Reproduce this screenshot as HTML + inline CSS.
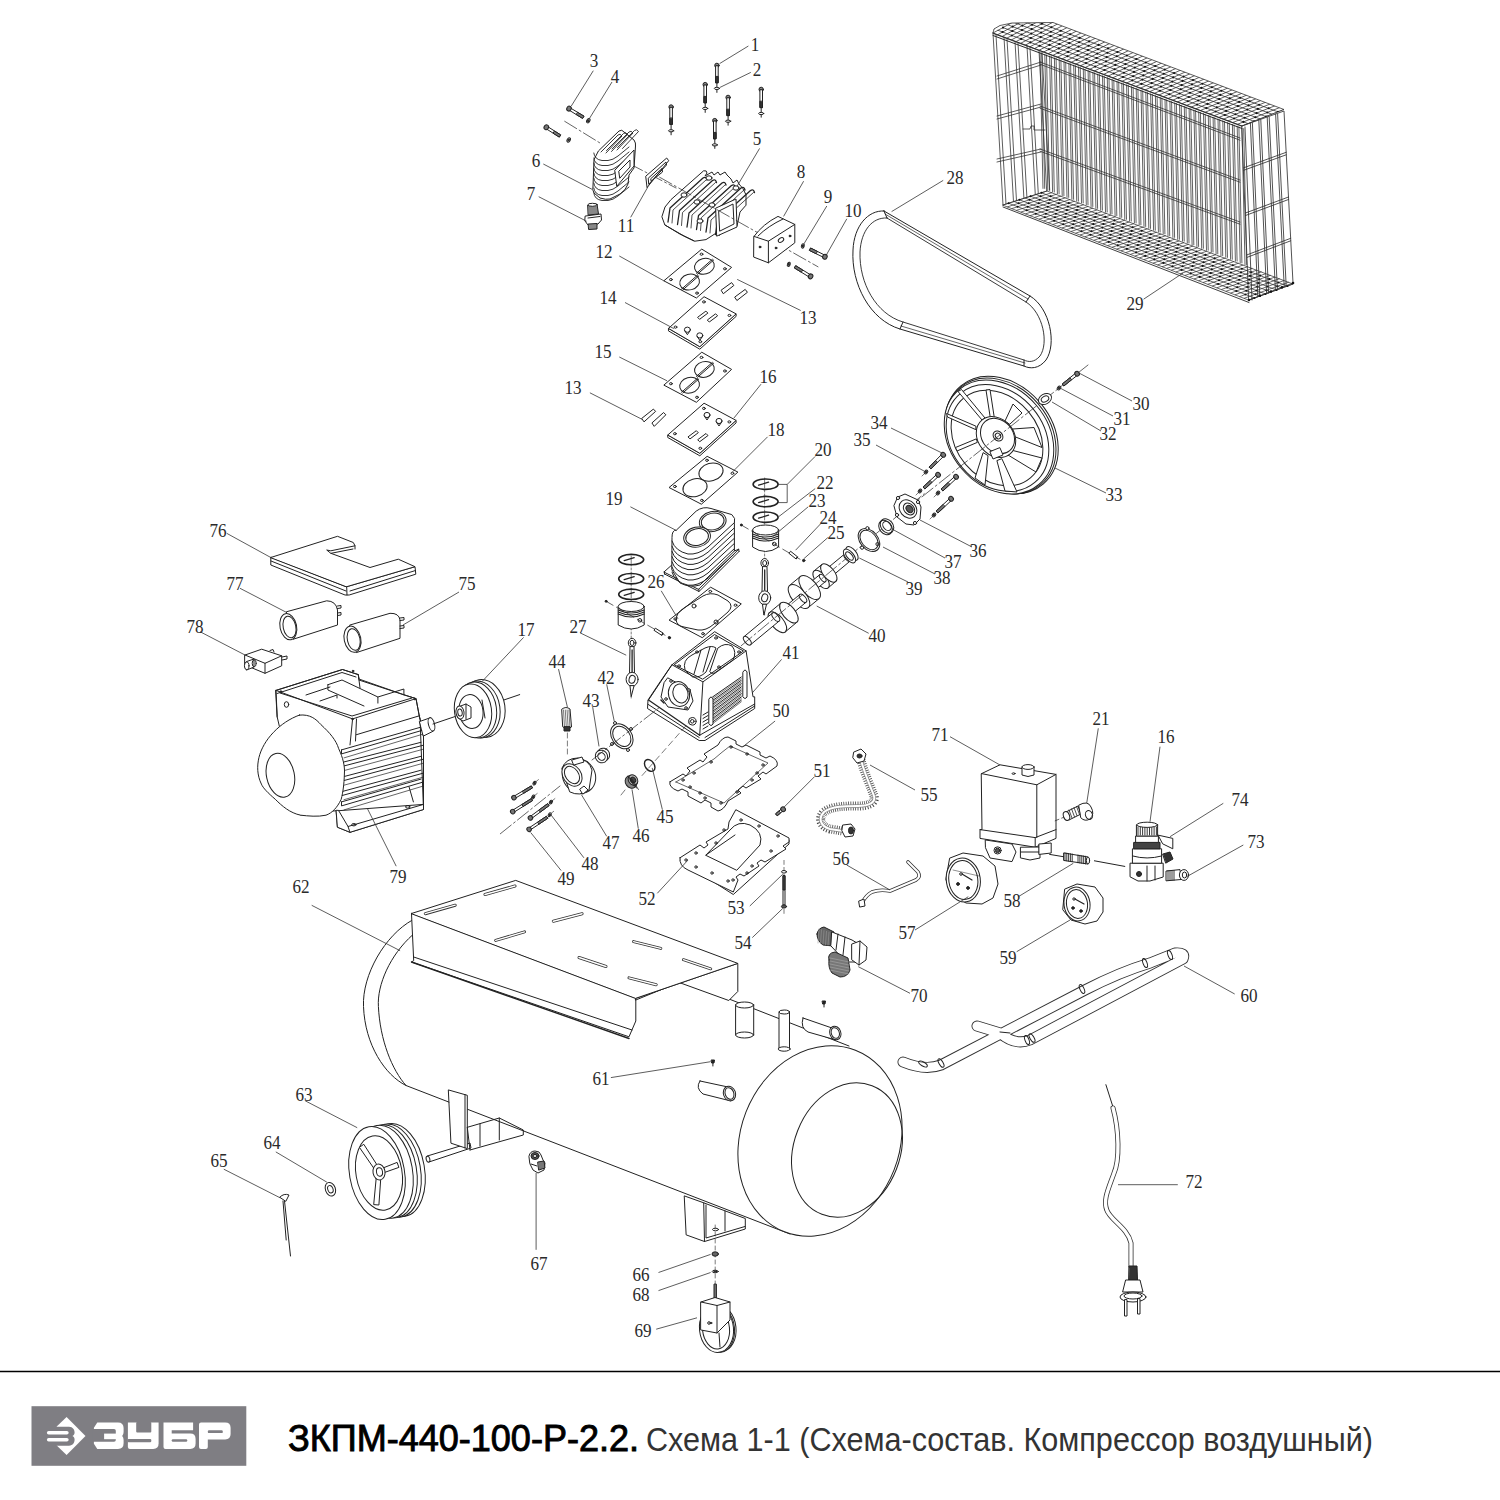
<!DOCTYPE html>
<html><head><meta charset="utf-8">
<style>
html,body{margin:0;padding:0;background:#fff;width:1500px;height:1500px;overflow:hidden}
svg{position:absolute;left:0;top:0}
.lb text{font-family:"Liberation Serif",serif;font-size:19px;fill:#2a2a2a;text-anchor:middle}
.title{position:absolute;left:288px;top:1414px;font-family:"Liberation Sans",sans-serif;font-size:36px;color:#000;white-space:nowrap;letter-spacing:-0.5px}
.title b{font-weight:bold}
.title span{color:#111}
</style></head><body>
<svg width="1500" height="1500" viewBox="0 0 1500 1500">
<g fill="none" stroke="#222" stroke-width="1" stroke-linejoin="round" stroke-linecap="round">
<g stroke="#3a3a3a" stroke-width="0.8">
<line x1="1040.0" y1="52.6" x2="1043.0" y2="188.4"/>
<line x1="1041.7" y1="53.2" x2="1044.7" y2="188.4"/>
<line x1="1044.8" y1="54.4" x2="1047.8" y2="190.2"/>
<line x1="1046.5" y1="55.0" x2="1049.5" y2="190.2"/>
<line x1="1049.6" y1="56.1" x2="1052.6" y2="192.0"/>
<line x1="1051.3" y1="56.7" x2="1054.3" y2="192.0"/>
<line x1="1054.4" y1="57.9" x2="1057.4" y2="193.8"/>
<line x1="1056.1" y1="58.5" x2="1059.1" y2="193.8"/>
<line x1="1059.2" y1="59.7" x2="1062.2" y2="195.6"/>
<line x1="1060.9" y1="60.3" x2="1063.9" y2="195.6"/>
<line x1="1064.0" y1="61.5" x2="1067.0" y2="197.4"/>
<line x1="1065.7" y1="62.1" x2="1068.7" y2="197.4"/>
<line x1="1068.9" y1="63.3" x2="1071.9" y2="199.3"/>
<line x1="1070.6" y1="63.9" x2="1073.6" y2="199.3"/>
<line x1="1073.7" y1="65.1" x2="1076.7" y2="201.1"/>
<line x1="1075.4" y1="65.7" x2="1078.4" y2="201.1"/>
<line x1="1078.5" y1="66.9" x2="1081.5" y2="202.9"/>
<line x1="1080.2" y1="67.5" x2="1083.2" y2="202.9"/>
<line x1="1083.3" y1="68.7" x2="1086.3" y2="204.7"/>
<line x1="1085.0" y1="69.3" x2="1088.0" y2="204.7"/>
<line x1="1088.1" y1="70.5" x2="1091.1" y2="206.5"/>
<line x1="1089.8" y1="71.1" x2="1092.8" y2="206.5"/>
<line x1="1092.9" y1="72.3" x2="1095.9" y2="208.4"/>
<line x1="1094.6" y1="72.9" x2="1097.6" y2="208.4"/>
<line x1="1097.7" y1="74.1" x2="1100.7" y2="210.2"/>
<line x1="1099.4" y1="74.7" x2="1102.4" y2="210.2"/>
<line x1="1102.5" y1="75.9" x2="1105.5" y2="212.0"/>
<line x1="1104.2" y1="76.5" x2="1107.2" y2="212.0"/>
<line x1="1107.3" y1="77.7" x2="1110.3" y2="213.8"/>
<line x1="1109.0" y1="78.3" x2="1112.0" y2="213.8"/>
<line x1="1112.1" y1="79.5" x2="1115.1" y2="215.6"/>
<line x1="1113.8" y1="80.1" x2="1116.8" y2="215.6"/>
<line x1="1117.0" y1="81.3" x2="1120.0" y2="217.4"/>
<line x1="1118.7" y1="81.9" x2="1121.7" y2="217.4"/>
<line x1="1121.8" y1="83.1" x2="1124.8" y2="219.3"/>
<line x1="1123.5" y1="83.7" x2="1126.5" y2="219.3"/>
<line x1="1126.6" y1="84.9" x2="1129.6" y2="221.1"/>
<line x1="1128.3" y1="85.5" x2="1131.3" y2="221.1"/>
<line x1="1131.4" y1="86.7" x2="1134.4" y2="222.9"/>
<line x1="1133.1" y1="87.3" x2="1136.1" y2="222.9"/>
<line x1="1136.2" y1="88.5" x2="1139.2" y2="224.7"/>
<line x1="1137.9" y1="89.1" x2="1140.9" y2="224.7"/>
<line x1="1141.0" y1="90.3" x2="1144.0" y2="226.5"/>
<line x1="1142.7" y1="90.9" x2="1145.7" y2="226.5"/>
<line x1="1145.8" y1="92.1" x2="1148.8" y2="228.4"/>
<line x1="1147.5" y1="92.7" x2="1150.5" y2="228.4"/>
<line x1="1150.6" y1="93.9" x2="1153.6" y2="230.2"/>
<line x1="1152.3" y1="94.5" x2="1155.3" y2="230.2"/>
<line x1="1155.4" y1="95.7" x2="1158.4" y2="232.0"/>
<line x1="1157.1" y1="96.3" x2="1160.1" y2="232.0"/>
<line x1="1160.2" y1="97.5" x2="1163.2" y2="233.8"/>
<line x1="1161.9" y1="98.1" x2="1164.9" y2="233.8"/>
<line x1="1165.0" y1="99.3" x2="1168.0" y2="235.6"/>
<line x1="1166.7" y1="99.9" x2="1169.7" y2="235.6"/>
<line x1="1169.9" y1="101.1" x2="1172.9" y2="237.4"/>
<line x1="1171.6" y1="101.7" x2="1174.6" y2="237.4"/>
<line x1="1174.7" y1="102.9" x2="1177.7" y2="239.3"/>
<line x1="1176.4" y1="103.5" x2="1179.4" y2="239.3"/>
<line x1="1179.5" y1="104.6" x2="1182.5" y2="241.1"/>
<line x1="1181.2" y1="105.2" x2="1184.2" y2="241.1"/>
<line x1="1184.3" y1="106.4" x2="1187.3" y2="242.9"/>
<line x1="1186.0" y1="107.0" x2="1189.0" y2="242.9"/>
<line x1="1189.1" y1="108.2" x2="1192.1" y2="244.7"/>
<line x1="1190.8" y1="108.8" x2="1193.8" y2="244.7"/>
<line x1="1193.9" y1="110.0" x2="1196.9" y2="246.5"/>
<line x1="1195.6" y1="110.6" x2="1198.6" y2="246.5"/>
<line x1="1198.7" y1="111.8" x2="1201.7" y2="248.3"/>
<line x1="1200.4" y1="112.4" x2="1203.4" y2="248.3"/>
<line x1="1203.5" y1="113.6" x2="1206.5" y2="250.2"/>
<line x1="1205.2" y1="114.2" x2="1208.2" y2="250.2"/>
<line x1="1208.3" y1="115.4" x2="1211.3" y2="252.0"/>
<line x1="1210.0" y1="116.0" x2="1213.0" y2="252.0"/>
<line x1="1213.1" y1="117.2" x2="1216.1" y2="253.8"/>
<line x1="1214.8" y1="117.8" x2="1217.8" y2="253.8"/>
<line x1="1218.0" y1="119.0" x2="1221.0" y2="255.6"/>
<line x1="1219.7" y1="119.6" x2="1222.7" y2="255.6"/>
<line x1="1222.8" y1="120.8" x2="1225.8" y2="257.4"/>
<line x1="1224.5" y1="121.4" x2="1227.5" y2="257.4"/>
<line x1="1227.6" y1="122.6" x2="1230.6" y2="259.3"/>
<line x1="1229.3" y1="123.2" x2="1232.3" y2="259.3"/>
<line x1="1232.4" y1="124.4" x2="1235.4" y2="261.1"/>
<line x1="1234.1" y1="125.0" x2="1237.1" y2="261.1"/>
<line x1="1237.2" y1="126.2" x2="1240.2" y2="262.9"/>
<line x1="1238.9" y1="126.8" x2="1241.9" y2="262.9"/>
<line x1="1242.0" y1="128.0" x2="1245.0" y2="264.7"/>
<line x1="1243.7" y1="128.6" x2="1246.7" y2="264.7"/>
</g>
<g stroke="#333" stroke-width="0.8">
<line x1="1040.0" y1="62.0" x2="1240.0" y2="138.0"/>
<line x1="1040.0" y1="64.2" x2="1240.0" y2="140.2"/>
<line x1="1040.0" y1="106.0" x2="1240.0" y2="180.0"/>
<line x1="1040.0" y1="108.2" x2="1240.0" y2="182.2"/>
<line x1="1040.0" y1="149.0" x2="1240.0" y2="222.0"/>
<line x1="1040.0" y1="151.2" x2="1240.0" y2="224.2"/>
</g>
<g stroke="#2a2a2a" stroke-width="0.75">
<clipPath id="ctop"><path d="M993.0,33.0 L994.0,29.0 L1000.0,25.5 L1012.0,23.0 L1053.0,22.5 L1284.0,109.5 L1242.0,126.0 Z"/></clipPath>
<path d="M993.0,33.0 L994.0,29.0 L1000.0,25.5 L1012.0,23.0 L1053.0,22.5 L1284.0,109.5 L1242.0,126.0 Z" fill="#fff"/>
<g clip-path="url(#ctop)">
<line x1="998.0" y1="30.3" x2="1248.0" y2="123.6"/>
<line x1="1003.0" y1="27.6" x2="1254.0" y2="121.3"/>
<line x1="1008.0" y1="24.9" x2="1260.0" y2="118.9"/>
<line x1="1013.0" y1="22.1" x2="1266.0" y2="116.6"/>
<line x1="1018.0" y1="19.4" x2="1272.0" y2="114.2"/>
<line x1="1023.0" y1="16.7" x2="1278.0" y2="111.9"/>
<line x1="978.6" y1="32.4" x2="1022.0" y2="8.6" stroke-width="0.75"/>
<circle cx="993.7" cy="24.1" r="1.05" fill="#111" stroke="none"/>
<circle cx="1003.6" cy="18.6" r="1.05" fill="#111" stroke="none"/>
<circle cx="1013.6" cy="13.2" r="1.05" fill="#111" stroke="none"/>
<line x1="983.2" y1="34.1" x2="1026.7" y2="10.3" stroke-width="0.75"/>
<circle cx="993.4" cy="28.6" r="1.05" fill="#111" stroke="none"/>
<circle cx="1003.3" cy="23.1" r="1.05" fill="#111" stroke="none"/>
<circle cx="1013.3" cy="17.7" r="1.05" fill="#111" stroke="none"/>
<line x1="987.8" y1="35.8" x2="1031.5" y2="12.1" stroke-width="0.75"/>
<circle cx="1003.0" cy="27.6" r="1.05" fill="#111" stroke="none"/>
<circle cx="1013.0" cy="22.1" r="1.05" fill="#111" stroke="none"/>
<circle cx="1023.0" cy="16.7" r="1.05" fill="#111" stroke="none"/>
<line x1="992.3" y1="37.6" x2="1036.3" y2="13.9" stroke-width="0.75"/>
<circle cx="1002.6" cy="32.0" r="1.05" fill="#111" stroke="none"/>
<circle cx="1012.7" cy="26.6" r="1.05" fill="#111" stroke="none"/>
<circle cx="1022.7" cy="21.2" r="1.05" fill="#111" stroke="none"/>
<line x1="996.9" y1="39.3" x2="1041.0" y2="15.6" stroke-width="0.75"/>
<circle cx="1012.3" cy="31.0" r="1.05" fill="#111" stroke="none"/>
<circle cx="1022.4" cy="25.6" r="1.05" fill="#111" stroke="none"/>
<circle cx="1032.4" cy="20.2" r="1.05" fill="#111" stroke="none"/>
<line x1="1001.5" y1="41.0" x2="1045.8" y2="17.4" stroke-width="0.75"/>
<circle cx="1011.9" cy="35.5" r="1.05" fill="#111" stroke="none"/>
<circle cx="1022.0" cy="30.1" r="1.05" fill="#111" stroke="none"/>
<circle cx="1032.1" cy="24.7" r="1.05" fill="#111" stroke="none"/>
<line x1="1006.1" y1="42.7" x2="1050.5" y2="19.2" stroke-width="0.75"/>
<circle cx="1021.6" cy="34.5" r="1.05" fill="#111" stroke="none"/>
<circle cx="1031.7" cy="29.1" r="1.05" fill="#111" stroke="none"/>
<circle cx="1041.9" cy="23.8" r="1.05" fill="#111" stroke="none"/>
<line x1="1010.7" y1="44.4" x2="1055.3" y2="21.0" stroke-width="0.75"/>
<circle cx="1021.1" cy="38.9" r="1.05" fill="#111" stroke="none"/>
<circle cx="1031.3" cy="33.6" r="1.05" fill="#111" stroke="none"/>
<circle cx="1041.5" cy="28.2" r="1.05" fill="#111" stroke="none"/>
<line x1="1015.3" y1="46.1" x2="1060.0" y2="22.7" stroke-width="0.75"/>
<circle cx="1030.9" cy="38.0" r="1.05" fill="#111" stroke="none"/>
<circle cx="1041.1" cy="32.6" r="1.05" fill="#111" stroke="none"/>
<circle cx="1051.3" cy="27.3" r="1.05" fill="#111" stroke="none"/>
<line x1="1019.9" y1="47.9" x2="1064.8" y2="24.5" stroke-width="0.75"/>
<circle cx="1030.4" cy="42.4" r="1.05" fill="#111" stroke="none"/>
<circle cx="1040.7" cy="37.1" r="1.05" fill="#111" stroke="none"/>
<circle cx="1050.9" cy="31.7" r="1.05" fill="#111" stroke="none"/>
<line x1="1024.5" y1="49.6" x2="1069.5" y2="26.3" stroke-width="0.75"/>
<circle cx="1040.2" cy="41.5" r="1.05" fill="#111" stroke="none"/>
<circle cx="1050.5" cy="36.1" r="1.05" fill="#111" stroke="none"/>
<circle cx="1060.8" cy="30.8" r="1.05" fill="#111" stroke="none"/>
<line x1="1029.1" y1="51.3" x2="1074.3" y2="28.1" stroke-width="0.75"/>
<circle cx="1039.7" cy="45.8" r="1.05" fill="#111" stroke="none"/>
<circle cx="1050.0" cy="40.5" r="1.05" fill="#111" stroke="none"/>
<circle cx="1060.3" cy="35.2" r="1.05" fill="#111" stroke="none"/>
<line x1="1033.7" y1="53.0" x2="1079.0" y2="29.8" stroke-width="0.75"/>
<circle cx="1049.5" cy="44.9" r="1.05" fill="#111" stroke="none"/>
<circle cx="1059.9" cy="39.6" r="1.05" fill="#111" stroke="none"/>
<circle cx="1070.2" cy="34.3" r="1.05" fill="#111" stroke="none"/>
<line x1="1038.3" y1="54.7" x2="1083.8" y2="31.6" stroke-width="0.75"/>
<circle cx="1048.9" cy="49.3" r="1.05" fill="#111" stroke="none"/>
<circle cx="1059.3" cy="44.0" r="1.05" fill="#111" stroke="none"/>
<circle cx="1069.7" cy="38.7" r="1.05" fill="#111" stroke="none"/>
<line x1="1042.8" y1="56.4" x2="1088.5" y2="33.4" stroke-width="0.75"/>
<circle cx="1058.8" cy="48.4" r="1.05" fill="#111" stroke="none"/>
<circle cx="1069.2" cy="43.1" r="1.05" fill="#111" stroke="none"/>
<circle cx="1079.7" cy="37.9" r="1.05" fill="#111" stroke="none"/>
<line x1="1047.4" y1="58.1" x2="1093.3" y2="35.2" stroke-width="0.75"/>
<circle cx="1058.2" cy="52.8" r="1.05" fill="#111" stroke="none"/>
<circle cx="1068.7" cy="47.5" r="1.05" fill="#111" stroke="none"/>
<circle cx="1079.1" cy="42.2" r="1.05" fill="#111" stroke="none"/>
<line x1="1052.0" y1="59.9" x2="1098.1" y2="36.9" stroke-width="0.75"/>
<circle cx="1068.1" cy="51.9" r="1.05" fill="#111" stroke="none"/>
<circle cx="1078.6" cy="46.6" r="1.05" fill="#111" stroke="none"/>
<circle cx="1089.1" cy="41.4" r="1.05" fill="#111" stroke="none"/>
<line x1="1056.6" y1="61.6" x2="1102.8" y2="38.7" stroke-width="0.75"/>
<circle cx="1067.4" cy="56.2" r="1.05" fill="#111" stroke="none"/>
<circle cx="1078.0" cy="51.0" r="1.05" fill="#111" stroke="none"/>
<circle cx="1088.6" cy="45.8" r="1.05" fill="#111" stroke="none"/>
<line x1="1061.2" y1="63.3" x2="1107.6" y2="40.5" stroke-width="0.75"/>
<circle cx="1077.4" cy="55.3" r="1.05" fill="#111" stroke="none"/>
<circle cx="1088.0" cy="50.1" r="1.05" fill="#111" stroke="none"/>
<circle cx="1098.6" cy="44.9" r="1.05" fill="#111" stroke="none"/>
<line x1="1065.8" y1="65.0" x2="1112.3" y2="42.2" stroke-width="0.75"/>
<circle cx="1076.7" cy="59.7" r="1.05" fill="#111" stroke="none"/>
<circle cx="1087.3" cy="54.5" r="1.05" fill="#111" stroke="none"/>
<circle cx="1098.0" cy="49.3" r="1.05" fill="#111" stroke="none"/>
<line x1="1070.4" y1="66.7" x2="1117.1" y2="44.0" stroke-width="0.75"/>
<circle cx="1086.7" cy="58.8" r="1.05" fill="#111" stroke="none"/>
<circle cx="1097.3" cy="53.6" r="1.05" fill="#111" stroke="none"/>
<circle cx="1108.0" cy="48.4" r="1.05" fill="#111" stroke="none"/>
<line x1="1075.0" y1="68.4" x2="1121.8" y2="45.8" stroke-width="0.75"/>
<circle cx="1086.0" cy="63.1" r="1.05" fill="#111" stroke="none"/>
<circle cx="1096.7" cy="58.0" r="1.05" fill="#111" stroke="none"/>
<circle cx="1107.4" cy="52.8" r="1.05" fill="#111" stroke="none"/>
<line x1="1079.6" y1="70.2" x2="1126.6" y2="47.6" stroke-width="0.75"/>
<circle cx="1096.0" cy="62.3" r="1.05" fill="#111" stroke="none"/>
<circle cx="1106.7" cy="57.1" r="1.05" fill="#111" stroke="none"/>
<circle cx="1117.4" cy="52.0" r="1.05" fill="#111" stroke="none"/>
<line x1="1084.2" y1="71.9" x2="1131.3" y2="49.3" stroke-width="0.75"/>
<circle cx="1095.2" cy="66.6" r="1.05" fill="#111" stroke="none"/>
<circle cx="1106.0" cy="61.4" r="1.05" fill="#111" stroke="none"/>
<circle cx="1116.8" cy="56.3" r="1.05" fill="#111" stroke="none"/>
<line x1="1088.8" y1="73.6" x2="1136.1" y2="51.1" stroke-width="0.75"/>
<circle cx="1105.3" cy="65.8" r="1.05" fill="#111" stroke="none"/>
<circle cx="1116.1" cy="60.6" r="1.05" fill="#111" stroke="none"/>
<circle cx="1126.9" cy="55.5" r="1.05" fill="#111" stroke="none"/>
<line x1="1093.4" y1="75.3" x2="1140.8" y2="52.9" stroke-width="0.75"/>
<circle cx="1104.5" cy="70.0" r="1.05" fill="#111" stroke="none"/>
<circle cx="1115.3" cy="64.9" r="1.05" fill="#111" stroke="none"/>
<circle cx="1126.2" cy="59.8" r="1.05" fill="#111" stroke="none"/>
<line x1="1098.0" y1="77.0" x2="1145.6" y2="54.7" stroke-width="0.75"/>
<circle cx="1114.6" cy="69.2" r="1.05" fill="#111" stroke="none"/>
<circle cx="1125.4" cy="64.1" r="1.05" fill="#111" stroke="none"/>
<circle cx="1136.3" cy="59.0" r="1.05" fill="#111" stroke="none"/>
<line x1="1102.5" y1="78.7" x2="1150.3" y2="56.4" stroke-width="0.75"/>
<circle cx="1113.7" cy="73.5" r="1.05" fill="#111" stroke="none"/>
<circle cx="1124.7" cy="68.4" r="1.05" fill="#111" stroke="none"/>
<circle cx="1135.6" cy="63.3" r="1.05" fill="#111" stroke="none"/>
<line x1="1107.1" y1="80.4" x2="1155.1" y2="58.2" stroke-width="0.75"/>
<circle cx="1123.9" cy="72.7" r="1.05" fill="#111" stroke="none"/>
<circle cx="1134.8" cy="67.6" r="1.05" fill="#111" stroke="none"/>
<circle cx="1145.8" cy="62.5" r="1.05" fill="#111" stroke="none"/>
<line x1="1111.7" y1="82.2" x2="1159.8" y2="60.0" stroke-width="0.75"/>
<circle cx="1123.0" cy="77.0" r="1.05" fill="#111" stroke="none"/>
<circle cx="1134.0" cy="71.9" r="1.05" fill="#111" stroke="none"/>
<circle cx="1145.0" cy="66.8" r="1.05" fill="#111" stroke="none"/>
<line x1="1116.3" y1="83.9" x2="1164.6" y2="61.7" stroke-width="0.75"/>
<circle cx="1133.1" cy="76.2" r="1.05" fill="#111" stroke="none"/>
<circle cx="1144.2" cy="71.1" r="1.05" fill="#111" stroke="none"/>
<circle cx="1155.2" cy="66.0" r="1.05" fill="#111" stroke="none"/>
<line x1="1120.9" y1="85.6" x2="1169.4" y2="63.5" stroke-width="0.75"/>
<circle cx="1132.3" cy="80.4" r="1.05" fill="#111" stroke="none"/>
<circle cx="1143.3" cy="75.4" r="1.05" fill="#111" stroke="none"/>
<circle cx="1154.4" cy="70.3" r="1.05" fill="#111" stroke="none"/>
<line x1="1125.5" y1="87.3" x2="1174.1" y2="65.3" stroke-width="0.75"/>
<circle cx="1142.4" cy="79.6" r="1.05" fill="#111" stroke="none"/>
<circle cx="1153.6" cy="74.6" r="1.05" fill="#111" stroke="none"/>
<circle cx="1164.7" cy="69.6" r="1.05" fill="#111" stroke="none"/>
<line x1="1130.1" y1="89.0" x2="1178.9" y2="67.1" stroke-width="0.75"/>
<circle cx="1141.5" cy="83.9" r="1.05" fill="#111" stroke="none"/>
<circle cx="1152.7" cy="78.9" r="1.05" fill="#111" stroke="none"/>
<circle cx="1163.8" cy="73.8" r="1.05" fill="#111" stroke="none"/>
<line x1="1134.7" y1="90.7" x2="1183.6" y2="68.8" stroke-width="0.75"/>
<circle cx="1151.7" cy="83.1" r="1.05" fill="#111" stroke="none"/>
<circle cx="1162.9" cy="78.1" r="1.05" fill="#111" stroke="none"/>
<circle cx="1174.1" cy="73.1" r="1.05" fill="#111" stroke="none"/>
<line x1="1139.3" y1="92.5" x2="1188.4" y2="70.6" stroke-width="0.75"/>
<circle cx="1150.8" cy="87.3" r="1.05" fill="#111" stroke="none"/>
<circle cx="1162.0" cy="82.3" r="1.05" fill="#111" stroke="none"/>
<circle cx="1173.2" cy="77.4" r="1.05" fill="#111" stroke="none"/>
<line x1="1143.9" y1="94.2" x2="1193.1" y2="72.4" stroke-width="0.75"/>
<circle cx="1161.0" cy="86.6" r="1.05" fill="#111" stroke="none"/>
<circle cx="1172.3" cy="81.6" r="1.05" fill="#111" stroke="none"/>
<circle cx="1183.6" cy="76.6" r="1.05" fill="#111" stroke="none"/>
<line x1="1148.5" y1="95.9" x2="1197.9" y2="74.2" stroke-width="0.75"/>
<circle cx="1160.0" cy="90.8" r="1.05" fill="#111" stroke="none"/>
<circle cx="1171.3" cy="85.8" r="1.05" fill="#111" stroke="none"/>
<circle cx="1182.6" cy="80.9" r="1.05" fill="#111" stroke="none"/>
<line x1="1153.0" y1="97.6" x2="1202.6" y2="75.9" stroke-width="0.75"/>
<circle cx="1170.3" cy="90.0" r="1.05" fill="#111" stroke="none"/>
<circle cx="1181.7" cy="85.1" r="1.05" fill="#111" stroke="none"/>
<circle cx="1193.0" cy="80.1" r="1.05" fill="#111" stroke="none"/>
<line x1="1157.6" y1="99.3" x2="1207.4" y2="77.7" stroke-width="0.75"/>
<circle cx="1169.3" cy="94.3" r="1.05" fill="#111" stroke="none"/>
<circle cx="1180.7" cy="89.3" r="1.05" fill="#111" stroke="none"/>
<circle cx="1192.0" cy="84.4" r="1.05" fill="#111" stroke="none"/>
<line x1="1162.2" y1="101.0" x2="1212.1" y2="79.5" stroke-width="0.75"/>
<circle cx="1179.6" cy="93.5" r="1.05" fill="#111" stroke="none"/>
<circle cx="1191.0" cy="88.6" r="1.05" fill="#111" stroke="none"/>
<circle cx="1202.4" cy="83.7" r="1.05" fill="#111" stroke="none"/>
<line x1="1166.8" y1="102.7" x2="1216.9" y2="81.3" stroke-width="0.75"/>
<circle cx="1178.6" cy="97.7" r="1.05" fill="#111" stroke="none"/>
<circle cx="1190.0" cy="92.8" r="1.05" fill="#111" stroke="none"/>
<circle cx="1201.4" cy="87.9" r="1.05" fill="#111" stroke="none"/>
<line x1="1171.4" y1="104.5" x2="1221.6" y2="83.0" stroke-width="0.75"/>
<circle cx="1188.9" cy="97.0" r="1.05" fill="#111" stroke="none"/>
<circle cx="1200.4" cy="92.1" r="1.05" fill="#111" stroke="none"/>
<circle cx="1211.9" cy="87.2" r="1.05" fill="#111" stroke="none"/>
<line x1="1176.0" y1="106.2" x2="1226.4" y2="84.8" stroke-width="0.75"/>
<circle cx="1187.8" cy="101.2" r="1.05" fill="#111" stroke="none"/>
<circle cx="1199.3" cy="96.3" r="1.05" fill="#111" stroke="none"/>
<circle cx="1210.9" cy="91.4" r="1.05" fill="#111" stroke="none"/>
<line x1="1180.6" y1="107.9" x2="1231.2" y2="86.6" stroke-width="0.75"/>
<circle cx="1198.2" cy="100.5" r="1.05" fill="#111" stroke="none"/>
<circle cx="1209.8" cy="95.6" r="1.05" fill="#111" stroke="none"/>
<circle cx="1221.3" cy="90.7" r="1.05" fill="#111" stroke="none"/>
<line x1="1185.2" y1="109.6" x2="1235.9" y2="88.3" stroke-width="0.75"/>
<circle cx="1197.1" cy="104.6" r="1.05" fill="#111" stroke="none"/>
<circle cx="1208.7" cy="99.8" r="1.05" fill="#111" stroke="none"/>
<circle cx="1220.3" cy="94.9" r="1.05" fill="#111" stroke="none"/>
<line x1="1189.8" y1="111.3" x2="1240.7" y2="90.1" stroke-width="0.75"/>
<circle cx="1207.5" cy="103.9" r="1.05" fill="#111" stroke="none"/>
<circle cx="1219.1" cy="99.1" r="1.05" fill="#111" stroke="none"/>
<circle cx="1230.8" cy="94.2" r="1.05" fill="#111" stroke="none"/>
<line x1="1194.4" y1="113.0" x2="1245.4" y2="91.9" stroke-width="0.75"/>
<circle cx="1206.3" cy="108.1" r="1.05" fill="#111" stroke="none"/>
<circle cx="1218.0" cy="103.2" r="1.05" fill="#111" stroke="none"/>
<circle cx="1229.7" cy="98.4" r="1.05" fill="#111" stroke="none"/>
<line x1="1199.0" y1="114.8" x2="1250.2" y2="93.7" stroke-width="0.75"/>
<circle cx="1216.8" cy="107.4" r="1.05" fill="#111" stroke="none"/>
<circle cx="1228.5" cy="102.6" r="1.05" fill="#111" stroke="none"/>
<circle cx="1240.2" cy="97.8" r="1.05" fill="#111" stroke="none"/>
<line x1="1203.6" y1="116.5" x2="1254.9" y2="95.4" stroke-width="0.75"/>
<circle cx="1215.6" cy="111.5" r="1.05" fill="#111" stroke="none"/>
<circle cx="1227.3" cy="106.7" r="1.05" fill="#111" stroke="none"/>
<circle cx="1239.1" cy="101.9" r="1.05" fill="#111" stroke="none"/>
<line x1="1208.1" y1="118.2" x2="1259.7" y2="97.2" stroke-width="0.75"/>
<circle cx="1226.1" cy="110.9" r="1.05" fill="#111" stroke="none"/>
<circle cx="1237.9" cy="106.1" r="1.05" fill="#111" stroke="none"/>
<circle cx="1249.7" cy="101.3" r="1.05" fill="#111" stroke="none"/>
<line x1="1212.7" y1="119.9" x2="1264.4" y2="99.0" stroke-width="0.75"/>
<circle cx="1224.9" cy="115.0" r="1.05" fill="#111" stroke="none"/>
<circle cx="1236.7" cy="110.2" r="1.05" fill="#111" stroke="none"/>
<circle cx="1248.5" cy="105.4" r="1.05" fill="#111" stroke="none"/>
<line x1="1217.3" y1="121.6" x2="1269.2" y2="100.8" stroke-width="0.75"/>
<circle cx="1235.4" cy="114.3" r="1.05" fill="#111" stroke="none"/>
<circle cx="1247.3" cy="109.6" r="1.05" fill="#111" stroke="none"/>
<circle cx="1259.1" cy="104.8" r="1.05" fill="#111" stroke="none"/>
<line x1="1221.9" y1="123.3" x2="1273.9" y2="102.5" stroke-width="0.75"/>
<circle cx="1234.1" cy="118.5" r="1.05" fill="#111" stroke="none"/>
<circle cx="1246.0" cy="113.7" r="1.05" fill="#111" stroke="none"/>
<circle cx="1257.9" cy="108.9" r="1.05" fill="#111" stroke="none"/>
<line x1="1226.5" y1="125.0" x2="1278.7" y2="104.3" stroke-width="0.75"/>
<circle cx="1244.7" cy="117.8" r="1.05" fill="#111" stroke="none"/>
<circle cx="1256.6" cy="113.1" r="1.05" fill="#111" stroke="none"/>
<circle cx="1268.6" cy="108.3" r="1.05" fill="#111" stroke="none"/>
<line x1="1231.1" y1="126.8" x2="1283.4" y2="106.1" stroke-width="0.75"/>
<circle cx="1243.4" cy="121.9" r="1.05" fill="#111" stroke="none"/>
<circle cx="1255.3" cy="117.2" r="1.05" fill="#111" stroke="none"/>
<circle cx="1267.3" cy="112.5" r="1.05" fill="#111" stroke="none"/>
<line x1="1235.7" y1="128.5" x2="1288.2" y2="107.8" stroke-width="0.75"/>
<circle cx="1254.0" cy="121.3" r="1.05" fill="#111" stroke="none"/>
<circle cx="1266.0" cy="116.6" r="1.05" fill="#111" stroke="none"/>
<circle cx="1278.0" cy="111.9" r="1.05" fill="#111" stroke="none"/>
</g>
<line x1="993.0" y1="35.5" x2="1242.0" y2="128.5" stroke-width="1"/>
<line x1="993.0" y1="33.0" x2="1242.0" y2="126.0" stroke-width="1"/>
</g>
<g stroke="#333" stroke-width="0.8">
<line x1="993.0" y1="33.0" x2="1003.0" y2="205.0"/>
<line x1="996.0" y1="35.1" x2="1006.0" y2="204.0"/>
<line x1="1004.0" y1="37.1" x2="1013.5" y2="201.7"/>
<line x1="1007.0" y1="39.3" x2="1016.5" y2="200.7"/>
<line x1="1015.0" y1="41.3" x2="1023.9" y2="198.4"/>
<line x1="1018.0" y1="43.4" x2="1026.9" y2="197.4"/>
<line x1="1027.0" y1="45.8" x2="1035.3" y2="194.8"/>
<line x1="1030.0" y1="47.9" x2="1038.3" y2="193.8"/>
<line x1="1039.0" y1="50.3" x2="1046.7" y2="191.2"/>
<line x1="1042.0" y1="52.4" x2="1049.7" y2="190.2"/>
<line x1="997.0" y1="76.0" x2="1041.0" y2="62.0"/>
<line x1="997.0" y1="79.0" x2="1041.0" y2="65.0"/>
<line x1="997.0" y1="116.0" x2="1041.0" y2="104.0"/>
<line x1="997.0" y1="119.0" x2="1041.0" y2="107.0"/>
<line x1="997.0" y1="159.0" x2="1041.0" y2="149.0"/>
<line x1="997.0" y1="162.0" x2="1041.0" y2="152.0"/>
</g>
<g stroke="#2a2a2a" stroke-width="0.7">
<path d="M1003.0,205.0 L1047.0,191.0 L1293.0,284.0 L1249.0,300.0 Z" fill="#fff"/>
<line x1="1008.5" y1="203.2" x2="1254.5" y2="298.0"/>
<line x1="1014.0" y1="201.5" x2="1260.0" y2="296.0"/>
<line x1="1019.5" y1="199.8" x2="1265.5" y2="294.0"/>
<line x1="1025.0" y1="198.0" x2="1271.0" y2="292.0"/>
<line x1="1030.5" y1="196.2" x2="1276.5" y2="290.0"/>
<line x1="1036.0" y1="194.5" x2="1282.0" y2="288.0"/>
<line x1="1041.5" y1="192.8" x2="1287.5" y2="286.0"/>
<line x1="1003.0" y1="205.0" x2="1047.0" y2="191.0"/>
<circle cx="1008.5" cy="203.2" r="1.05" fill="#111" stroke="none"/>
<circle cx="1019.5" cy="199.8" r="1.05" fill="#111" stroke="none"/>
<circle cx="1030.5" cy="196.2" r="1.05" fill="#111" stroke="none"/>
<circle cx="1041.5" cy="192.8" r="1.05" fill="#111" stroke="none"/>
<line x1="1007.6" y1="206.8" x2="1051.6" y2="192.7"/>
<circle cx="1018.6" cy="203.2" r="1.05" fill="#111" stroke="none"/>
<circle cx="1029.6" cy="199.7" r="1.05" fill="#111" stroke="none"/>
<circle cx="1040.6" cy="196.2" r="1.05" fill="#111" stroke="none"/>
<line x1="1012.1" y1="208.5" x2="1056.1" y2="194.4"/>
<circle cx="1017.6" cy="206.8" r="1.05" fill="#111" stroke="none"/>
<circle cx="1028.6" cy="203.2" r="1.05" fill="#111" stroke="none"/>
<circle cx="1039.6" cy="199.7" r="1.05" fill="#111" stroke="none"/>
<circle cx="1050.6" cy="196.2" r="1.05" fill="#111" stroke="none"/>
<line x1="1016.7" y1="210.3" x2="1060.7" y2="196.2"/>
<circle cx="1027.7" cy="206.8" r="1.05" fill="#111" stroke="none"/>
<circle cx="1038.7" cy="203.2" r="1.05" fill="#111" stroke="none"/>
<circle cx="1049.7" cy="199.7" r="1.05" fill="#111" stroke="none"/>
<line x1="1021.2" y1="212.0" x2="1065.2" y2="197.9"/>
<circle cx="1026.7" cy="210.3" r="1.05" fill="#111" stroke="none"/>
<circle cx="1037.7" cy="206.7" r="1.05" fill="#111" stroke="none"/>
<circle cx="1048.7" cy="203.2" r="1.05" fill="#111" stroke="none"/>
<circle cx="1059.7" cy="199.7" r="1.05" fill="#111" stroke="none"/>
<line x1="1025.8" y1="213.8" x2="1069.8" y2="199.6"/>
<circle cx="1036.8" cy="210.2" r="1.05" fill="#111" stroke="none"/>
<circle cx="1047.8" cy="206.7" r="1.05" fill="#111" stroke="none"/>
<circle cx="1058.8" cy="203.2" r="1.05" fill="#111" stroke="none"/>
<line x1="1030.3" y1="215.6" x2="1074.3" y2="201.3"/>
<circle cx="1035.8" cy="213.8" r="1.05" fill="#111" stroke="none"/>
<circle cx="1046.8" cy="210.2" r="1.05" fill="#111" stroke="none"/>
<circle cx="1057.8" cy="206.7" r="1.05" fill="#111" stroke="none"/>
<circle cx="1068.8" cy="203.1" r="1.05" fill="#111" stroke="none"/>
<line x1="1034.9" y1="217.3" x2="1078.9" y2="203.1"/>
<circle cx="1045.9" cy="213.8" r="1.05" fill="#111" stroke="none"/>
<circle cx="1056.9" cy="210.2" r="1.05" fill="#111" stroke="none"/>
<circle cx="1067.9" cy="206.6" r="1.05" fill="#111" stroke="none"/>
<line x1="1039.4" y1="219.1" x2="1083.4" y2="204.8"/>
<circle cx="1044.9" cy="217.3" r="1.05" fill="#111" stroke="none"/>
<circle cx="1055.9" cy="213.7" r="1.05" fill="#111" stroke="none"/>
<circle cx="1066.9" cy="210.1" r="1.05" fill="#111" stroke="none"/>
<circle cx="1077.9" cy="206.6" r="1.05" fill="#111" stroke="none"/>
<line x1="1044.0" y1="220.8" x2="1088.0" y2="206.5"/>
<circle cx="1055.0" cy="217.2" r="1.05" fill="#111" stroke="none"/>
<circle cx="1066.0" cy="213.7" r="1.05" fill="#111" stroke="none"/>
<circle cx="1077.0" cy="210.1" r="1.05" fill="#111" stroke="none"/>
<line x1="1048.6" y1="222.6" x2="1092.6" y2="208.2"/>
<circle cx="1054.1" cy="220.8" r="1.05" fill="#111" stroke="none"/>
<circle cx="1065.1" cy="217.2" r="1.05" fill="#111" stroke="none"/>
<circle cx="1076.1" cy="213.6" r="1.05" fill="#111" stroke="none"/>
<circle cx="1087.1" cy="210.0" r="1.05" fill="#111" stroke="none"/>
<line x1="1053.1" y1="224.4" x2="1097.1" y2="209.9"/>
<circle cx="1064.1" cy="220.8" r="1.05" fill="#111" stroke="none"/>
<circle cx="1075.1" cy="217.1" r="1.05" fill="#111" stroke="none"/>
<circle cx="1086.1" cy="213.5" r="1.05" fill="#111" stroke="none"/>
<line x1="1057.7" y1="226.1" x2="1101.7" y2="211.7"/>
<circle cx="1063.2" cy="224.3" r="1.05" fill="#111" stroke="none"/>
<circle cx="1074.2" cy="220.7" r="1.05" fill="#111" stroke="none"/>
<circle cx="1085.2" cy="217.1" r="1.05" fill="#111" stroke="none"/>
<circle cx="1096.2" cy="213.5" r="1.05" fill="#111" stroke="none"/>
<line x1="1062.2" y1="227.9" x2="1106.2" y2="213.4"/>
<circle cx="1073.2" cy="224.2" r="1.05" fill="#111" stroke="none"/>
<circle cx="1084.2" cy="220.6" r="1.05" fill="#111" stroke="none"/>
<circle cx="1095.2" cy="217.0" r="1.05" fill="#111" stroke="none"/>
<line x1="1066.8" y1="229.6" x2="1110.8" y2="215.1"/>
<circle cx="1072.3" cy="227.8" r="1.05" fill="#111" stroke="none"/>
<circle cx="1083.3" cy="224.2" r="1.05" fill="#111" stroke="none"/>
<circle cx="1094.3" cy="220.6" r="1.05" fill="#111" stroke="none"/>
<circle cx="1105.3" cy="216.9" r="1.05" fill="#111" stroke="none"/>
<line x1="1071.3" y1="231.4" x2="1115.3" y2="216.8"/>
<circle cx="1082.3" cy="227.8" r="1.05" fill="#111" stroke="none"/>
<circle cx="1093.3" cy="224.1" r="1.05" fill="#111" stroke="none"/>
<circle cx="1104.3" cy="220.5" r="1.05" fill="#111" stroke="none"/>
<line x1="1075.9" y1="233.1" x2="1119.9" y2="218.6"/>
<circle cx="1081.4" cy="231.3" r="1.05" fill="#111" stroke="none"/>
<circle cx="1092.4" cy="227.7" r="1.05" fill="#111" stroke="none"/>
<circle cx="1103.4" cy="224.0" r="1.05" fill="#111" stroke="none"/>
<circle cx="1114.4" cy="220.4" r="1.05" fill="#111" stroke="none"/>
<line x1="1080.4" y1="234.9" x2="1124.4" y2="220.3"/>
<circle cx="1091.4" cy="231.2" r="1.05" fill="#111" stroke="none"/>
<circle cx="1102.4" cy="227.6" r="1.05" fill="#111" stroke="none"/>
<circle cx="1113.4" cy="223.9" r="1.05" fill="#111" stroke="none"/>
<line x1="1085.0" y1="236.7" x2="1129.0" y2="222.0"/>
<circle cx="1090.5" cy="234.8" r="1.05" fill="#111" stroke="none"/>
<circle cx="1101.5" cy="231.2" r="1.05" fill="#111" stroke="none"/>
<circle cx="1112.5" cy="227.5" r="1.05" fill="#111" stroke="none"/>
<circle cx="1123.5" cy="223.8" r="1.05" fill="#111" stroke="none"/>
<line x1="1089.6" y1="238.4" x2="1133.6" y2="223.7"/>
<circle cx="1100.6" cy="234.8" r="1.05" fill="#111" stroke="none"/>
<circle cx="1111.6" cy="231.1" r="1.05" fill="#111" stroke="none"/>
<circle cx="1122.6" cy="227.4" r="1.05" fill="#111" stroke="none"/>
<line x1="1094.1" y1="240.2" x2="1138.1" y2="225.4"/>
<circle cx="1099.6" cy="238.3" r="1.05" fill="#111" stroke="none"/>
<circle cx="1110.6" cy="234.7" r="1.05" fill="#111" stroke="none"/>
<circle cx="1121.6" cy="231.0" r="1.05" fill="#111" stroke="none"/>
<circle cx="1132.6" cy="227.3" r="1.05" fill="#111" stroke="none"/>
<line x1="1098.7" y1="241.9" x2="1142.7" y2="227.2"/>
<circle cx="1109.7" cy="238.2" r="1.05" fill="#111" stroke="none"/>
<circle cx="1120.7" cy="234.6" r="1.05" fill="#111" stroke="none"/>
<circle cx="1131.7" cy="230.9" r="1.05" fill="#111" stroke="none"/>
<line x1="1103.2" y1="243.7" x2="1147.2" y2="228.9"/>
<circle cx="1108.7" cy="241.9" r="1.05" fill="#111" stroke="none"/>
<circle cx="1119.7" cy="238.1" r="1.05" fill="#111" stroke="none"/>
<circle cx="1130.7" cy="234.4" r="1.05" fill="#111" stroke="none"/>
<circle cx="1141.7" cy="230.7" r="1.05" fill="#111" stroke="none"/>
<line x1="1107.8" y1="245.5" x2="1151.8" y2="230.6"/>
<circle cx="1118.8" cy="241.8" r="1.05" fill="#111" stroke="none"/>
<circle cx="1129.8" cy="238.0" r="1.05" fill="#111" stroke="none"/>
<circle cx="1140.8" cy="234.3" r="1.05" fill="#111" stroke="none"/>
<line x1="1112.3" y1="247.2" x2="1156.3" y2="232.3"/>
<circle cx="1117.8" cy="245.4" r="1.05" fill="#111" stroke="none"/>
<circle cx="1128.8" cy="241.6" r="1.05" fill="#111" stroke="none"/>
<circle cx="1139.8" cy="237.9" r="1.05" fill="#111" stroke="none"/>
<circle cx="1150.8" cy="234.2" r="1.05" fill="#111" stroke="none"/>
<line x1="1116.9" y1="249.0" x2="1160.9" y2="234.1"/>
<circle cx="1127.9" cy="245.2" r="1.05" fill="#111" stroke="none"/>
<circle cx="1138.9" cy="241.5" r="1.05" fill="#111" stroke="none"/>
<circle cx="1149.9" cy="237.8" r="1.05" fill="#111" stroke="none"/>
<line x1="1121.4" y1="250.7" x2="1165.4" y2="235.8"/>
<circle cx="1126.9" cy="248.9" r="1.05" fill="#111" stroke="none"/>
<circle cx="1137.9" cy="245.1" r="1.05" fill="#111" stroke="none"/>
<circle cx="1148.9" cy="241.4" r="1.05" fill="#111" stroke="none"/>
<circle cx="1159.9" cy="237.6" r="1.05" fill="#111" stroke="none"/>
<line x1="1126.0" y1="252.5" x2="1170.0" y2="237.5"/>
<circle cx="1137.0" cy="248.8" r="1.05" fill="#111" stroke="none"/>
<circle cx="1148.0" cy="245.0" r="1.05" fill="#111" stroke="none"/>
<circle cx="1159.0" cy="241.2" r="1.05" fill="#111" stroke="none"/>
<line x1="1130.6" y1="254.3" x2="1174.6" y2="239.2"/>
<circle cx="1136.1" cy="252.4" r="1.05" fill="#111" stroke="none"/>
<circle cx="1147.1" cy="248.6" r="1.05" fill="#111" stroke="none"/>
<circle cx="1158.1" cy="244.9" r="1.05" fill="#111" stroke="none"/>
<circle cx="1169.1" cy="241.1" r="1.05" fill="#111" stroke="none"/>
<line x1="1135.1" y1="256.0" x2="1179.1" y2="240.9"/>
<circle cx="1146.1" cy="252.2" r="1.05" fill="#111" stroke="none"/>
<circle cx="1157.1" cy="248.5" r="1.05" fill="#111" stroke="none"/>
<circle cx="1168.1" cy="244.7" r="1.05" fill="#111" stroke="none"/>
<line x1="1139.7" y1="257.8" x2="1183.7" y2="242.7"/>
<circle cx="1145.2" cy="255.9" r="1.05" fill="#111" stroke="none"/>
<circle cx="1156.2" cy="252.1" r="1.05" fill="#111" stroke="none"/>
<circle cx="1167.2" cy="248.3" r="1.05" fill="#111" stroke="none"/>
<circle cx="1178.2" cy="244.6" r="1.05" fill="#111" stroke="none"/>
<line x1="1144.2" y1="259.5" x2="1188.2" y2="244.4"/>
<circle cx="1155.2" cy="255.8" r="1.05" fill="#111" stroke="none"/>
<circle cx="1166.2" cy="252.0" r="1.05" fill="#111" stroke="none"/>
<circle cx="1177.2" cy="248.2" r="1.05" fill="#111" stroke="none"/>
<line x1="1148.8" y1="261.3" x2="1192.8" y2="246.1"/>
<circle cx="1154.3" cy="259.4" r="1.05" fill="#111" stroke="none"/>
<circle cx="1165.3" cy="255.6" r="1.05" fill="#111" stroke="none"/>
<circle cx="1176.3" cy="251.8" r="1.05" fill="#111" stroke="none"/>
<circle cx="1187.3" cy="248.0" r="1.05" fill="#111" stroke="none"/>
<line x1="1153.3" y1="263.1" x2="1197.3" y2="247.8"/>
<circle cx="1164.3" cy="259.2" r="1.05" fill="#111" stroke="none"/>
<circle cx="1175.3" cy="255.4" r="1.05" fill="#111" stroke="none"/>
<circle cx="1186.3" cy="251.6" r="1.05" fill="#111" stroke="none"/>
<line x1="1157.9" y1="264.8" x2="1201.9" y2="249.6"/>
<circle cx="1163.4" cy="262.9" r="1.05" fill="#111" stroke="none"/>
<circle cx="1174.4" cy="259.1" r="1.05" fill="#111" stroke="none"/>
<circle cx="1185.4" cy="255.3" r="1.05" fill="#111" stroke="none"/>
<circle cx="1196.4" cy="251.5" r="1.05" fill="#111" stroke="none"/>
<line x1="1162.4" y1="266.6" x2="1206.4" y2="251.3"/>
<circle cx="1173.4" cy="262.8" r="1.05" fill="#111" stroke="none"/>
<circle cx="1184.4" cy="258.9" r="1.05" fill="#111" stroke="none"/>
<circle cx="1195.4" cy="255.1" r="1.05" fill="#111" stroke="none"/>
<line x1="1167.0" y1="268.3" x2="1211.0" y2="253.0"/>
<circle cx="1172.5" cy="266.4" r="1.05" fill="#111" stroke="none"/>
<circle cx="1183.5" cy="262.6" r="1.05" fill="#111" stroke="none"/>
<circle cx="1194.5" cy="258.8" r="1.05" fill="#111" stroke="none"/>
<circle cx="1205.5" cy="254.9" r="1.05" fill="#111" stroke="none"/>
<line x1="1171.6" y1="270.1" x2="1215.6" y2="254.7"/>
<circle cx="1182.6" cy="266.2" r="1.05" fill="#111" stroke="none"/>
<circle cx="1193.6" cy="262.4" r="1.05" fill="#111" stroke="none"/>
<circle cx="1204.6" cy="258.6" r="1.05" fill="#111" stroke="none"/>
<line x1="1176.1" y1="271.9" x2="1220.1" y2="256.4"/>
<circle cx="1181.6" cy="269.9" r="1.05" fill="#111" stroke="none"/>
<circle cx="1192.6" cy="266.1" r="1.05" fill="#111" stroke="none"/>
<circle cx="1203.6" cy="262.2" r="1.05" fill="#111" stroke="none"/>
<circle cx="1214.6" cy="258.4" r="1.05" fill="#111" stroke="none"/>
<line x1="1180.7" y1="273.6" x2="1224.7" y2="258.2"/>
<circle cx="1191.7" cy="269.8" r="1.05" fill="#111" stroke="none"/>
<circle cx="1202.7" cy="265.9" r="1.05" fill="#111" stroke="none"/>
<circle cx="1213.7" cy="262.0" r="1.05" fill="#111" stroke="none"/>
<line x1="1185.2" y1="275.4" x2="1229.2" y2="259.9"/>
<circle cx="1190.7" cy="273.4" r="1.05" fill="#111" stroke="none"/>
<circle cx="1201.7" cy="269.6" r="1.05" fill="#111" stroke="none"/>
<circle cx="1212.7" cy="265.7" r="1.05" fill="#111" stroke="none"/>
<circle cx="1223.7" cy="261.8" r="1.05" fill="#111" stroke="none"/>
<line x1="1189.8" y1="277.1" x2="1233.8" y2="261.6"/>
<circle cx="1200.8" cy="273.2" r="1.05" fill="#111" stroke="none"/>
<circle cx="1211.8" cy="269.4" r="1.05" fill="#111" stroke="none"/>
<circle cx="1222.8" cy="265.5" r="1.05" fill="#111" stroke="none"/>
<line x1="1194.3" y1="278.9" x2="1238.3" y2="263.3"/>
<circle cx="1199.8" cy="276.9" r="1.05" fill="#111" stroke="none"/>
<circle cx="1210.8" cy="273.1" r="1.05" fill="#111" stroke="none"/>
<circle cx="1221.8" cy="269.2" r="1.05" fill="#111" stroke="none"/>
<circle cx="1232.8" cy="265.3" r="1.05" fill="#111" stroke="none"/>
<line x1="1198.9" y1="280.6" x2="1242.9" y2="265.1"/>
<circle cx="1209.9" cy="276.8" r="1.05" fill="#111" stroke="none"/>
<circle cx="1220.9" cy="272.9" r="1.05" fill="#111" stroke="none"/>
<circle cx="1231.9" cy="269.0" r="1.05" fill="#111" stroke="none"/>
<line x1="1203.4" y1="282.4" x2="1247.4" y2="266.8"/>
<circle cx="1208.9" cy="280.5" r="1.05" fill="#111" stroke="none"/>
<circle cx="1219.9" cy="276.5" r="1.05" fill="#111" stroke="none"/>
<circle cx="1230.9" cy="272.6" r="1.05" fill="#111" stroke="none"/>
<circle cx="1241.9" cy="268.7" r="1.05" fill="#111" stroke="none"/>
<line x1="1208.0" y1="284.2" x2="1252.0" y2="268.5"/>
<circle cx="1219.0" cy="280.2" r="1.05" fill="#111" stroke="none"/>
<circle cx="1230.0" cy="276.3" r="1.05" fill="#111" stroke="none"/>
<circle cx="1241.0" cy="272.4" r="1.05" fill="#111" stroke="none"/>
<line x1="1212.6" y1="285.9" x2="1256.6" y2="270.2"/>
<circle cx="1218.1" cy="284.0" r="1.05" fill="#111" stroke="none"/>
<circle cx="1229.1" cy="280.0" r="1.05" fill="#111" stroke="none"/>
<circle cx="1240.1" cy="276.1" r="1.05" fill="#111" stroke="none"/>
<circle cx="1251.1" cy="272.2" r="1.05" fill="#111" stroke="none"/>
<line x1="1217.1" y1="287.7" x2="1261.1" y2="271.9"/>
<circle cx="1228.1" cy="283.8" r="1.05" fill="#111" stroke="none"/>
<circle cx="1239.1" cy="279.8" r="1.05" fill="#111" stroke="none"/>
<circle cx="1250.1" cy="275.9" r="1.05" fill="#111" stroke="none"/>
<line x1="1221.7" y1="289.4" x2="1265.7" y2="273.7"/>
<circle cx="1227.2" cy="287.5" r="1.05" fill="#111" stroke="none"/>
<circle cx="1238.2" cy="283.5" r="1.05" fill="#111" stroke="none"/>
<circle cx="1249.2" cy="279.6" r="1.05" fill="#111" stroke="none"/>
<circle cx="1260.2" cy="275.6" r="1.05" fill="#111" stroke="none"/>
<line x1="1226.2" y1="291.2" x2="1270.2" y2="275.4"/>
<circle cx="1237.2" cy="287.2" r="1.05" fill="#111" stroke="none"/>
<circle cx="1248.2" cy="283.3" r="1.05" fill="#111" stroke="none"/>
<circle cx="1259.2" cy="279.3" r="1.05" fill="#111" stroke="none"/>
<line x1="1230.8" y1="293.0" x2="1274.8" y2="277.1"/>
<circle cx="1236.3" cy="291.0" r="1.05" fill="#111" stroke="none"/>
<circle cx="1247.3" cy="287.0" r="1.05" fill="#111" stroke="none"/>
<circle cx="1258.3" cy="283.1" r="1.05" fill="#111" stroke="none"/>
<circle cx="1269.3" cy="279.1" r="1.05" fill="#111" stroke="none"/>
<line x1="1235.3" y1="294.7" x2="1279.3" y2="278.8"/>
<circle cx="1246.3" cy="290.8" r="1.05" fill="#111" stroke="none"/>
<circle cx="1257.3" cy="286.8" r="1.05" fill="#111" stroke="none"/>
<circle cx="1268.3" cy="282.8" r="1.05" fill="#111" stroke="none"/>
<line x1="1239.9" y1="296.5" x2="1283.9" y2="280.6"/>
<circle cx="1245.4" cy="294.5" r="1.05" fill="#111" stroke="none"/>
<circle cx="1256.4" cy="290.5" r="1.05" fill="#111" stroke="none"/>
<circle cx="1267.4" cy="286.5" r="1.05" fill="#111" stroke="none"/>
<circle cx="1278.4" cy="282.5" r="1.05" fill="#111" stroke="none"/>
<line x1="1244.4" y1="298.2" x2="1288.4" y2="282.3"/>
<circle cx="1255.4" cy="294.2" r="1.05" fill="#111" stroke="none"/>
<circle cx="1266.4" cy="290.3" r="1.05" fill="#111" stroke="none"/>
<circle cx="1277.4" cy="286.3" r="1.05" fill="#111" stroke="none"/>
<line x1="1249.0" y1="300.0" x2="1293.0" y2="284.0"/>
<circle cx="1254.5" cy="298.0" r="1.05" fill="#111" stroke="none"/>
<circle cx="1265.5" cy="294.0" r="1.05" fill="#111" stroke="none"/>
<circle cx="1276.5" cy="290.0" r="1.05" fill="#111" stroke="none"/>
<circle cx="1287.5" cy="286.0" r="1.05" fill="#111" stroke="none"/>
<line x1="1003.0" y1="207.0" x2="1249.0" y2="302.5" stroke-width="0.9"/>
</g>
<g stroke="#333" stroke-width="0.85">
<path d="M1242.0,126.0 L1284.0,111.0 L1293.0,283.0 L1249.0,300.0 Z"/>
<line x1="1250.4" y1="123.0" x2="1257.8" y2="296.6"/>
<line x1="1252.4" y1="123.0" x2="1259.8" y2="296.6"/>
<line x1="1258.8" y1="120.0" x2="1266.6" y2="293.2"/>
<line x1="1260.8" y1="120.0" x2="1268.6" y2="293.2"/>
<line x1="1267.2" y1="117.0" x2="1275.4" y2="289.8"/>
<line x1="1269.2" y1="117.0" x2="1277.4" y2="289.8"/>
<line x1="1275.6" y1="114.0" x2="1284.2" y2="286.4"/>
<line x1="1277.6" y1="114.0" x2="1286.2" y2="286.4"/>
<line x1="1243.7" y1="167.8" x2="1286.2" y2="152.3"/>
<line x1="1243.7" y1="170.3" x2="1286.2" y2="154.8"/>
<line x1="1245.5" y1="213.0" x2="1288.5" y2="197.0"/>
<line x1="1245.5" y1="215.5" x2="1288.5" y2="199.5"/>
<line x1="1247.2" y1="254.8" x2="1290.7" y2="238.3"/>
<line x1="1247.2" y1="257.3" x2="1290.7" y2="240.8"/>
<line x1="1245.0" y1="127.0" x2="1252.0" y2="300.0"/>
<circle cx="1249.0" cy="300.0" r="1.3" fill="#111" stroke="none"/>
<circle cx="1260.0" cy="295.8" r="1.3" fill="#111" stroke="none"/>
<circle cx="1271.0" cy="291.5" r="1.3" fill="#111" stroke="none"/>
<circle cx="1282.0" cy="287.2" r="1.3" fill="#111" stroke="none"/>
<circle cx="1293.0" cy="283.0" r="1.3" fill="#111" stroke="none"/>
</g>
<path d="M1023.0,129.0 L1030.0,129.0 L1031.0,126.0 L1034.0,126.0 L1034.0,130.0 L1045.0,130.0" stroke="#333" stroke-width="0.8"/>
<path d="M412.5,905 L733.3,1000.5 L849.8,1046 L830,1238 L790,1235 L406,1085.5 C385,1075 365,1045 363.5,1006.5 C362,975 385,935 412.5,920 Z" fill="#fff" stroke="none"/>
<path d="M412.5,920 C385,935 362,975 363.5,1006.5 C365,1045 385,1075 406,1085.5 L790,1234"/>
<path d="M412.5,935 C390,955 377,985 378.4,1006.5 C380,1040 392,1070 406,1085.5"/>
<line x1="729" y1="999" x2="849" y2="1046"/>
<ellipse cx="820" cy="1141" rx="79.5" ry="97.5" transform="rotate(21.3 820 1141)" fill="#fff"/>
<ellipse cx="847" cy="1150" rx="53" ry="69" transform="rotate(21.3 847 1150)"/>
<path d="M735.6,1005 L735.6,1035 L753.7,1035 L753.7,1005 Z" fill="#fff"/>
<ellipse cx="744.6" cy="1035" rx="9" ry="3" fill="#fff"/>
<ellipse cx="744.6" cy="1005" rx="9" ry="3" fill="#fff"/>
<path d="M779,1012 L779,1049 L789.5,1049 L789.5,1012 Z" fill="#fff"/>
<ellipse cx="784.2" cy="1049" rx="6" ry="2.2" fill="#fff"/>
<ellipse cx="784.2" cy="1012" rx="5.2" ry="2" fill="#fff"/>
<path d="M803,1018 L832,1028 L836,1040 L808,1032 Q800,1028 803,1018 Z" fill="#fff"/>
<ellipse cx="835.3" cy="1033" rx="5.5" ry="7" transform="rotate(-20 835.3 1033)" fill="#fff"/>
<ellipse cx="835.3" cy="1033" rx="4" ry="5.5" transform="rotate(-20 835.3 1033)"/>
<path d="M700,1081 L728,1087 L731,1101 L703,1094 Q695,1088 700,1081 Z" fill="#fff"/>
<ellipse cx="729.5" cy="1093.5" rx="6" ry="7.5" transform="rotate(-20 729.5 1093.5)" fill="#fff"/>
<ellipse cx="729.5" cy="1093.5" rx="4.3" ry="6" transform="rotate(-20 729.5 1093.5)"/>
<path d="M711.5,1060 L714.5,1060 L714,1063 L712,1063 Z" fill="#222"/>
<line x1="712.9" y1="1063" x2="712.9" y2="1066"/>
<path d="M822.5,1001 L825.5,1001 L825,1004 L823,1004 Z" fill="#222"/>
<line x1="824" y1="1004" x2="824" y2="1007"/>
<path d="M427.3,1156 L470,1143 L471,1148 L429,1162 Z" fill="#fff"/>
<ellipse cx="428" cy="1159.2" rx="1.8" ry="3" transform="rotate(-15 428 1159.2)" fill="#fff"/>
<path d="M448.7,1090 L467.3,1095.3 L467.3,1148.6 L451.3,1143.3 Z" fill="#fff"/>
<line x1="465" y1="1094.5" x2="465" y2="1148"/>
<path d="M467.3,1127.3 L499.3,1118 L523.3,1130 L523.3,1135 L470,1150"/>
<line x1="480" y1="1124" x2="480" y2="1146"/>
<line x1="499.3" y1="1118" x2="499.3" y2="1140"/>
<line x1="467.3" y1="1127.3" x2="470" y2="1150"/>
<path d="M684.6,1196 L703.7,1202.8 L745.3,1218.5 L745.3,1229 L704.5,1241.5 L686.5,1235 Z" fill="#fff"/>
<line x1="703.7" y1="1202.8" x2="704.5" y2="1241.5"/>
<path d="M706,1205 L706,1238 L745,1226.5"/>
<line x1="725" y1="1211" x2="725" y2="1231"/>
<ellipse cx="715.5" cy="1229.5" rx="3" ry="1.3" fill="#fff"/>
<path d="M411.5,913.5 L413.7,960.6 L411.5,962 L629,1036.8 L635.8,1021 L635.8,998.3 Z" fill="#fff"/>
<line x1="413.7" y1="957" x2="632" y2="1030"/>
<line x1="411.5" y1="962" x2="629" y2="1038.5" stroke-width="1.4"/>
<path d="M635.8,998.3 L737.8,963.4 L737.8,991.5 L728.8,1000.5 L678.9,982.4 L635.8,1000 Z" fill="#fff"/>
<path d="M411.5,913.5 L515.7,880.4 L737.8,963.4 L635.8,998.3 Z" fill="#fff"/>
<line x1="425.3" y1="913.7" x2="455.2" y2="905.2" stroke-width="3" stroke="#333"/>
<line x1="425.3" y1="913.7" x2="455.2" y2="905.2" stroke-width="1.4" stroke="#fff"/>
<line x1="485" y1="894.5" x2="515" y2="886" stroke-width="3" stroke="#333"/>
<line x1="485" y1="894.5" x2="515" y2="886" stroke-width="1.4" stroke="#fff"/>
<line x1="495.7" y1="940.4" x2="524.5" y2="931.9" stroke-width="3" stroke="#333"/>
<line x1="495.7" y1="940.4" x2="524.5" y2="931.9" stroke-width="1.4" stroke="#fff"/>
<line x1="553.3" y1="921.2" x2="582.1" y2="913.7" stroke-width="3" stroke="#333"/>
<line x1="553.3" y1="921.2" x2="582.1" y2="913.7" stroke-width="1.4" stroke="#fff"/>
<line x1="579" y1="957.5" x2="606" y2="966.5" stroke-width="3" stroke="#333"/>
<line x1="579" y1="957.5" x2="606" y2="966.5" stroke-width="1.4" stroke="#fff"/>
<line x1="633.6" y1="941.6" x2="660.8" y2="948.4" stroke-width="3" stroke="#333"/>
<line x1="633.6" y1="941.6" x2="660.8" y2="948.4" stroke-width="1.4" stroke="#fff"/>
<line x1="629" y1="977.9" x2="656.2" y2="984.7" stroke-width="3" stroke="#333"/>
<line x1="629" y1="977.9" x2="656.2" y2="984.7" stroke-width="1.4" stroke="#fff"/>
<line x1="683.4" y1="959.7" x2="710.7" y2="968.8" stroke-width="3" stroke="#333"/>
<line x1="683.4" y1="959.7" x2="710.7" y2="968.8" stroke-width="1.4" stroke="#fff"/>
<ellipse cx="397" cy="1170" rx="27.5" ry="47" transform="rotate(-10 397 1170)" fill="#fff"/>
<ellipse cx="393" cy="1170.6" rx="27.5" ry="47" transform="rotate(-10 393 1170.6)" fill="#fff"/>
<ellipse cx="389" cy="1171.2" rx="27.5" ry="47" transform="rotate(-10 389 1171.2)" fill="#fff"/>
<ellipse cx="385" cy="1171.8" rx="27.5" ry="47" transform="rotate(-10 385 1171.8)" fill="#fff"/>
<ellipse cx="377" cy="1173" rx="27.5" ry="47" transform="rotate(-10 377 1173)" fill="#fff"/>
<ellipse cx="379" cy="1173" rx="23" ry="37.5" transform="rotate(-10 379 1173)"/>
<path d="M380.8,1170.8 L363.8,1144.3 L359.4,1147.3 L377.2,1173.2 Z" fill="#fff"/>
<path d="M379.8,1174.1 L398.9,1167.4 L397.1,1162.4 L378.2,1169.9 Z" fill="#fff"/>
<path d="M376.8,1171.8 L373.7,1204.6 L378.9,1205 L381.2,1172.2 Z" fill="#fff"/>
<ellipse cx="379" cy="1172" rx="6" ry="8" transform="rotate(-10 379 1172)" fill="#fff"/>
<ellipse cx="379.5" cy="1172" rx="3" ry="4.2" transform="rotate(-10 379.5 1172)"/>
<ellipse cx="330.4" cy="1189.2" rx="5" ry="7" transform="rotate(-20 330.4 1189.2)" fill="#fff"/>
<ellipse cx="330.4" cy="1189.2" rx="2.6" ry="3.8" transform="rotate(-20 330.4 1189.2)"/>
<path d="M280,1197 Q284,1193 289,1195 L286,1201 Z" fill="#fff"/>
<line x1="284.5" y1="1201" x2="290.5" y2="1256"/>
<line x1="283" y1="1201" x2="286.2" y2="1240"/>
<path d="M529,1156 Q530,1151 535,1151 Q540,1151 541,1155 L543,1160 L545,1163 L544,1170 L538,1173 L533,1170 L530,1164 Z" fill="#fff"/>
<ellipse cx="535" cy="1156" rx="4" ry="3.5" fill="#555"/>
<ellipse cx="535" cy="1156" rx="2" ry="1.6" fill="#ddd"/>
<path d="M538,1162 L544,1161 L545,1168 L539,1170 Z" fill="#777"/>
<line x1="531" y1="1164" x2="537" y2="1166"/>
<line x1="715.2" y1="1225" x2="715.2" y2="1300" stroke-dasharray="4 3" stroke-width="0.6"/>
<ellipse cx="715.2" cy="1254" rx="3.2" ry="2.2" fill="#666"/>
<ellipse cx="715.2" cy="1271.5" rx="3" ry="1.3" fill="#fff"/><ellipse cx="715.2" cy="1271.5" rx="1.4" ry="0.6" fill="#555"/>
<path d="M714,1284.5 L714,1298 L716.4,1298 L716.4,1284.5 Z" fill="#777"/>
<ellipse cx="720" cy="1328.5" rx="16" ry="23" transform="rotate(-6 720 1328.5)" fill="#fff"/>
<ellipse cx="718.5" cy="1329" rx="16" ry="23.3" transform="rotate(-6 718.5 1329)" fill="#fff"/>
<ellipse cx="716.5" cy="1329" rx="17" ry="23.5" transform="rotate(-6 716.5 1329)" fill="#fff"/>
<ellipse cx="716" cy="1329" rx="13.5" ry="20" transform="rotate(-6 716 1329)"/>
<path d="M701,1302 L715,1297.5 L730,1302 L730,1320 L717,1333 L701,1330 Z" fill="#fff"/>
<path d="M701,1302 L717,1305.5 L730,1302"/>
<line x1="717" y1="1305.5" x2="717" y2="1333"/>
<line x1="719" y1="1333" x2="720" y2="1347"/>
<circle cx="709" cy="1323" r="1.3"/>
<circle cx="711" cy="1323" r="0.8"/>
<line x1="1105.9" y1="1084.7" x2="1113" y2="1107"/>
<path d="M1113,1108 C1119,1130 1120,1160 1113.7,1174 C1108,1190 1103,1200 1106.8,1210 C1110,1220 1128,1228 1131,1243 L1131,1266" stroke-width="5" stroke="#333"/>
<path d="M1113,1108 C1119,1130 1120,1160 1113.7,1174 C1108,1190 1103,1200 1106.8,1210 C1110,1220 1128,1228 1131,1243 L1131,1266" stroke-width="3.4" stroke="#fff"/>
<path d="M1129.3,1266 L1137,1266 L1137.5,1280 L1129,1280 Z" fill="#333"/>
<path d="M1126,1280 L1140,1280 L1143,1292 L1123,1292 Z" fill="#fff"/>
<ellipse cx="1133" cy="1297" rx="13" ry="5" fill="#fff"/>
<ellipse cx="1133" cy="1296" rx="9" ry="3"/>
<path d="M1124.5,1300 L1124.5,1316 L1127,1316 L1127,1300 Z" fill="#fff"/>
<path d="M1137.5,1299 L1137.5,1314 L1140,1314 L1140,1299 Z" fill="#fff"/>
<ellipse cx="716.9" cy="65.4" rx="2.2" ry="2.2" fill="#888"/>
<path d="M715.6,66.1 L715.6,82.8 L718.2,82.8 L718.2,66.1 Z" fill="#fff"/>
<path d="M715.6,76.8 L715.6,82.8 L718.2,82.8 L718.2,76.8 Z" fill="#333"/>
<line x1="716.9" y1="82.8" x2="716.9" y2="87.4"/>
<ellipse cx="716.9" cy="88.4" rx="2.6" ry="1.1" fill="#fff"/>
<line x1="716.9" y1="89.4" x2="716.9" y2="92.4"/>
<ellipse cx="705.2" cy="84.6" rx="2.2" ry="2.2" fill="#888"/>
<path d="M703.9,85.3 L703.9,102.8 L706.5,102.8 L706.5,85.3 Z" fill="#fff"/>
<path d="M703.9,96.8 L703.9,102.8 L706.5,102.8 L706.5,96.8 Z" fill="#333"/>
<line x1="705.2" y1="102.8" x2="705.2" y2="107.4"/>
<ellipse cx="705.2" cy="108.4" rx="2.6" ry="1.1" fill="#fff"/>
<line x1="705.2" y1="109.4" x2="705.2" y2="112.4"/>
<ellipse cx="671.1" cy="107" rx="2.2" ry="2.2" fill="#888"/>
<path d="M669.8,107.7 L669.8,124.4 L672.4,124.4 L672.4,107.7 Z" fill="#fff"/>
<path d="M669.8,118.4 L669.8,124.4 L672.4,124.4 L672.4,118.4 Z" fill="#333"/>
<line x1="671.1" y1="124.4" x2="671.1" y2="129.8"/>
<ellipse cx="671.1" cy="130.8" rx="2.6" ry="1.1" fill="#fff"/>
<line x1="671.1" y1="131.8" x2="671.1" y2="134.8"/>
<ellipse cx="728.1" cy="97.4" rx="2.2" ry="2.2" fill="#888"/>
<path d="M726.8,98.1 L726.8,115.6 L729.4,115.6 L729.4,98.1 Z" fill="#fff"/>
<path d="M726.8,109.6 L726.8,115.6 L729.4,115.6 L729.4,109.6 Z" fill="#333"/>
<line x1="728.1" y1="115.6" x2="728.1" y2="120.2"/>
<ellipse cx="728.1" cy="121.2" rx="2.6" ry="1.1" fill="#fff"/>
<line x1="728.1" y1="122.2" x2="728.1" y2="125.2"/>
<ellipse cx="761.2" cy="89.4" rx="2.2" ry="2.2" fill="#888"/>
<path d="M759.9,90.1 L759.9,107.6 L762.5,107.6 L762.5,90.1 Z" fill="#fff"/>
<path d="M759.9,101.6 L759.9,107.6 L762.5,107.6 L762.5,101.6 Z" fill="#333"/>
<line x1="761.2" y1="107.6" x2="761.2" y2="112.5"/>
<ellipse cx="761.2" cy="113.5" rx="2.6" ry="1.1" fill="#fff"/>
<line x1="761.2" y1="114.5" x2="761.2" y2="117.2"/>
<ellipse cx="714.8" cy="120.6" rx="2.2" ry="2.2" fill="#888"/>
<path d="M713.5,121.3 L713.5,138.8 L716.1,138.8 L716.1,121.3 Z" fill="#fff"/>
<path d="M713.5,132.8 L713.5,138.8 L716.1,138.8 L716.1,132.8 Z" fill="#333"/>
<line x1="714.8" y1="138.8" x2="714.8" y2="143.9"/>
<ellipse cx="714.8" cy="144.9" rx="2.6" ry="1.1" fill="#fff"/>
<line x1="714.8" y1="145.9" x2="714.8" y2="148.4"/>
<path d="M569.5,110.4 L582.6,118.4 L584,116.2 L570.8,108.2 Z" fill="#fff"/>
<path d="M576.5,114.7 L582.6,118.4 L584,116.2 L577.9,112.5 Z" fill="#777"/>
<ellipse cx="569" cy="108.6" rx="2.2" ry="2.5" transform="rotate(31.29303899592026 569 108.6)" fill="#777"/>
<path d="M546.7,129.1 L559.3,137.1 L560.7,134.9 L548.1,126.9 Z" fill="#fff"/>
<path d="M553.4,133.4 L559.3,137.1 L560.7,134.9 L554.8,131.2 Z" fill="#777"/>
<ellipse cx="546.3" cy="127.3" rx="2.2" ry="2.5" transform="rotate(32.31961650818009 546.3 127.3)" fill="#777"/>
<ellipse cx="588.3" cy="120.7" rx="1.5" ry="2.3" transform="rotate(30 588.3 120.7)" fill="#fff"/><ellipse cx="588.3" cy="120.7" rx="0.7" ry="1" transform="rotate(30 588.3 120.7)" fill="#555"/>
<ellipse cx="568.7" cy="140" rx="1.5" ry="2.3" transform="rotate(30 568.7 140)" fill="#fff"/><ellipse cx="568.7" cy="140" rx="0.7" ry="1" transform="rotate(30 568.7 140)" fill="#555"/>
<line x1="564.7" y1="121.3" x2="600" y2="143" stroke-dasharray="14 3 2 3" stroke-width="0.7"/>
<line x1="630" y1="164" x2="676" y2="188" stroke-dasharray="14 3 2 3" stroke-width="0.7"/>
<path d="M598.7,150.7 L619,131 Q622,129 624,132 L634,140 Q636,143 635.5,146 L634,168 L629,175 L628,184 Q626,190 620,194 L610,199 Q606,200 600,198 L594,193 Q592,190 593,186 L594,160 Z" fill="#fff" stroke-width="1"/>
<path d="M593.8,153.0 Q594.5,159.5 602,160.5 L608,160.5 Q613,160.0 618,156.0 L629,147.0" stroke-width="0.9"/>
<path d="M593.8,158.0 Q594.5,164.5 602,165.5 L608,165.5 Q613,165.0 618,161.0 L629,152.0" stroke-width="0.9"/>
<path d="M593.8,163.0 Q594.5,169.5 602,170.5 L608,170.5 Q613,170.0 618,166.0 L629,157.0" stroke-width="0.9"/>
<path d="M593.8,168.0 Q594.5,174.5 602,175.5 L608,175.5 Q613,175.0 618,171.0 L629,162.0" stroke-width="0.9"/>
<path d="M593.8,173.0 Q594.5,179.5 602,180.5 L608,180.5 Q613,180.0 618,176.0 L629,167.0" stroke-width="0.9"/>
<path d="M593.8,178.0 Q594.5,184.5 602,185.5 L608,185.5 Q613,185.0 618,181.0 L629,172.0" stroke-width="0.9"/>
<path d="M593.8,183.0 Q594.5,189.5 602,190.5 L608,190.5 Q613,190.0 618,186.0 L629,177.0" stroke-width="0.9"/>
<path d="M593.8,188.0 Q594.5,194.5 602,195.5 L608,195.5 Q613,195.0 618,191.0 L629,182.0" stroke-width="0.9"/>
<path d="M593.8,193.0 Q594.5,199.5 602,200.5 L608,200.5 Q613,200.0 618,196.0 L629,187.0" stroke-width="0.9"/>
<path d="M601.0,152.0 L618.0,135.0 Q620.0,133.0 622.0,136.0 L606.0,153.0" stroke-width="0.9"/>
<path d="M606.5,150.5 L623.5,133.5 Q625.5,131.5 627.5,134.5 L611.5,151.5" stroke-width="0.9"/>
<path d="M612.0,149.0 L629.0,132.0 Q631.0,130.0 633.0,133.0 L617.0,150.0" stroke-width="0.9"/>
<path d="M617.5,147.5 L634.5,130.5 Q636.5,128.5 638.5,131.5 L622.5,148.5" stroke-width="0.9"/>
<path d="M615,170 L634,150 L634,166 L617,186 Z" fill="#fff"/>
<path d="M619,171 L630,160 L630,167 L620,178 Z"/>
<path d="M646,176 L666.7,158 L668.7,160.7 L647.3,187.3 Z" fill="#fff"/>
<path d="M648.5,178 L666,162 L666.5,165 L649,184 Z"/>
<path d="M651,178.5 L662,168.5 L662.5,172 L651.5,181 Z"/>
<path d="M588,205 L597,204 L598.5,214 L588.5,215 Z" fill="#888"/>
<ellipse cx="592.5" cy="204.8" rx="4.6" ry="1.5" fill="#fff"/>
<path d="M585.5,216 L601,214 L601.5,220 L598,224 L588,225 L585,221 Z" fill="#fff"/>
<path d="M588.5,224 L597,223.5 L597,229 L589,229.5 Z" fill="#888"/>
<line x1="588" y1="218" x2="600" y2="216.5"/>
<path d="M662,216.4 L665,207 L671,199.6 L703.6,170.8 Q707,170 707,173 L705,176 L712,172 L714,175 L718,172 L720,175 L725,172 L727,175 L731,179 L733,183 L737,180 L739,184 L742.8,188.4 L746,194.8 L746,205.2 L740,212 L737,226 L728,230 L717.2,232.4 L706,239.6 L694.8,241.2 L684,236 L665.2,225.2 Z" fill="#fff"/>
<path d="M668.0,222.0 L670.0,208.0 L703.0,178.0 Q706.0,176.0 707.0,180.0" stroke-width="1.3"/>
<path d="M672.0,223.0 L673.0,210.0 L706.0,180.0" stroke-width="0.8"/>
<path d="M677.5,224.5 L679.5,210.5 L712.5,180.5 Q715.5,178.5 716.5,182.5" stroke-width="1.3"/>
<path d="M681.5,225.5 L682.5,212.5 L715.5,182.5" stroke-width="0.8"/>
<path d="M687.0,227.0 L689.0,213.0 L722.0,183.0 Q725.0,181.0 726.0,185.0" stroke-width="1.3"/>
<path d="M691.0,228.0 L692.0,215.0 L725.0,185.0" stroke-width="0.8"/>
<path d="M696.5,229.5 L698.5,215.5 L731.5,185.5 Q734.5,183.5 735.5,187.5" stroke-width="1.3"/>
<path d="M700.5,230.5 L701.5,217.5 L734.5,187.5" stroke-width="0.8"/>
<path d="M706.0,232.0 L708.0,218.0 L741.0,188.0 Q744.0,186.0 745.0,190.0" stroke-width="1.3"/>
<path d="M710.0,233.0 L711.0,220.0 L744.0,190.0" stroke-width="0.8"/>
<path d="M715.5,234.5 L717.5,220.5 L750.5,190.5 Q753.5,188.5 754.5,192.5" stroke-width="1.3"/>
<path d="M719.5,235.5 L720.5,222.5 L753.5,192.5" stroke-width="0.8"/>
<path d="M665,225 Q680,235 694,241"/>
<ellipse cx="709" cy="178" rx="3" ry="2.2" fill="#fff"/>
<ellipse cx="684" cy="195" rx="3" ry="2.2" fill="#fff"/>
<ellipse cx="697" cy="202" rx="3" ry="2.2" fill="#fff"/>
<ellipse cx="712" cy="205" rx="3" ry="2.2" fill="#fff"/>
<ellipse cx="736" cy="188" rx="3" ry="2.2" fill="#fff"/>
<ellipse cx="700" cy="221" rx="3" ry="2.2" fill="#fff"/>
<path d="M716,208 L736,199 L737,227 L717,236 Z" fill="#fff"/>
<path d="M719,211 L733,204 L734,224 L720,231 Z"/>
<line x1="659.6" y1="177.2" x2="818" y2="266.8" stroke-dasharray="14 3 2 3" stroke-width="0.7"/>
<path d="M754,236.4 Q763,224 778,216.4 L794.8,224.4 L794.8,242.8 L768.4,262.8 L754,257.2 Z" fill="#fff"/>
<path d="M754,236.4 L768.4,241.2 L794.8,224.4"/>
<line x1="768.4" y1="241.2" x2="768.4" y2="262.8"/>
<path d="M758,236 Q768,226 783,219"/>
<ellipse cx="781" cy="240" rx="3" ry="2" transform="rotate(-35 781 240)"/>
<circle cx="776" cy="248" r="0.9" fill="#222"/>
<circle cx="790" cy="236" r="0.9" fill="#222"/>
<circle cx="760" cy="247" r="0.9" fill="#222"/>
<ellipse cx="802.8" cy="246" rx="1.4" ry="2.2" transform="rotate(20 802.8 246)" fill="#fff"/><ellipse cx="802.8" cy="246" rx="0.6" ry="1" transform="rotate(20 802.8 246)" fill="#555"/>
<path d="M824.3,254.9 L810.6,248 L809.4,250.4 L823.2,257.2 Z" fill="#fff"/>
<path d="M817,251.2 L810.6,248 L809.4,250.4 L815.8,253.6 Z" fill="#777"/>
<ellipse cx="824.9" cy="256.7" rx="2.2" ry="2.5" transform="rotate(-153.434948822922 824.9 256.7)" fill="#777"/>
<ellipse cx="788.8" cy="264.3" rx="1.4" ry="2.2" transform="rotate(20 788.8 264.3)" fill="#fff"/><ellipse cx="788.8" cy="264.3" rx="0.6" ry="1" transform="rotate(20 788.8 264.3)" fill="#555"/>
<path d="M810.2,274.6 L795.7,265.7 L794.3,267.9 L808.8,276.8 Z" fill="#fff"/>
<path d="M802.3,269.8 L795.7,265.7 L794.3,267.9 L801,272 Z" fill="#777"/>
<ellipse cx="810.6" cy="276.4" rx="2.2" ry="2.5" transform="rotate(-148.43102887068173 810.6 276.4)" fill="#777"/>
<path d="M702.1,249.3 L731.6,267.4 L696.4,298 L664.2,281 Z" fill="#fff"/>
<ellipse cx="701.5" cy="254.2" rx="1.4" ry="1.1" fill="#fff"/>
<ellipse cx="724.9" cy="268.8" rx="1.4" ry="1.1" fill="#fff"/>
<ellipse cx="697" cy="293.1" rx="1.4" ry="1.1" fill="#fff"/>
<ellipse cx="670.9" cy="279.6" rx="1.4" ry="1.1" fill="#fff"/>
<ellipse cx="704.4" cy="266.3" rx="10" ry="7.8" transform="rotate(-15 704.4 266.3)"/>
<line x1="696.4" y1="273.3" x2="712.4" y2="259.3"/>
<line x1="697.6" y1="274.1" x2="713.6" y2="260.1"/>
<ellipse cx="689.6" cy="282.1" rx="10" ry="7.8" transform="rotate(-15 689.6 282.1)"/>
<line x1="681.6" y1="289.1" x2="697.6" y2="275.1"/>
<line x1="682.8" y1="289.9" x2="698.8" y2="275.9"/>
<path d="M721.4,290 L731.6,282.6 L733.8,285.5 L723.6,293.5 Z" fill="#fff"/>
<path d="M735,296.9 L745.2,289.4 L747.4,292.3 L737.2,300.3 Z" fill="#fff"/>
<path d="M668.8,328.6 L699.8,346.7 L736.1,313.9 L736.1,316.4 L699.8,349.2 L668.8,331.1 Z" fill="#fff"/>
<path d="M704.4,296.9 L736.1,313.9 L699.8,346.7 L668.8,328.6 Z" fill="#fff"/>
<ellipse cx="703.9" cy="301.9" rx="1.4" ry="1.1" fill="#fff"/>
<ellipse cx="729.4" cy="315.4" rx="1.4" ry="1.1" fill="#fff"/>
<ellipse cx="700.3" cy="341.7" rx="1.4" ry="1.1" fill="#fff"/>
<ellipse cx="675.5" cy="327.1" rx="1.4" ry="1.1" fill="#fff"/>
<path d="M697.9,317.1 L705.9,311.1 L707.9,313.1 L699.9,319.1 Z"/>
<path d="M707.6,319.8 L715.6,313.8 L717.6,315.8 L709.6,321.8 Z"/>
<ellipse cx="687.4" cy="329.7" rx="3" ry="2.6" fill="#fff"/>
<path d="M684.8,330.7 L687.4,334.7 L690,330.7"/>
<ellipse cx="699.8" cy="335.4" rx="3" ry="2.6" fill="#fff"/>
<path d="M697.2,336.4 L699.8,340.4 L702.4,336.4"/>
<path d="M702.1,352.4 L731.6,369.4 L696.4,402.3 L664.2,385.3 Z" fill="#fff"/>
<ellipse cx="701.5" cy="357.4" rx="1.4" ry="1.1" fill="#fff"/>
<ellipse cx="724.9" cy="371" rx="1.4" ry="1.1" fill="#fff"/>
<ellipse cx="697" cy="397.3" rx="1.4" ry="1.1" fill="#fff"/>
<ellipse cx="670.9" cy="383.7" rx="1.4" ry="1.1" fill="#fff"/>
<ellipse cx="704.4" cy="369.4" rx="10" ry="7.8" transform="rotate(-15 704.4 369.4)"/>
<line x1="696.4" y1="376.4" x2="712.4" y2="362.4"/>
<line x1="697.6" y1="377.2" x2="713.6" y2="363.2"/>
<ellipse cx="689.6" cy="385.2" rx="10" ry="7.8" transform="rotate(-15 689.6 385.2)"/>
<line x1="681.6" y1="392.2" x2="697.6" y2="378.2"/>
<line x1="682.8" y1="393" x2="698.8" y2="379"/>
<path d="M642,418.2 L653.4,409.1 L655.6,411.4 L644.3,421.6 Z" fill="#fff"/>
<path d="M652.2,422.7 L663.6,412.5 L665.8,414.8 L654.5,426.1 Z" fill="#fff"/>
<path d="M668.1,435.2 L699.8,453.3 L736.1,420.4 L736.1,422.9 L699.8,455.8 L668.1,437.7 Z" fill="#fff"/>
<path d="M704.4,403.4 L736.1,420.4 L699.8,453.3 L668.1,435.2 Z" fill="#fff"/>
<ellipse cx="703.9" cy="408.4" rx="1.4" ry="1.1" fill="#fff"/>
<ellipse cx="729.3" cy="421.9" rx="1.4" ry="1.1" fill="#fff"/>
<ellipse cx="700.3" cy="448.3" rx="1.4" ry="1.1" fill="#fff"/>
<ellipse cx="674.9" cy="433.7" rx="1.4" ry="1.1" fill="#fff"/>
<path d="M688.3,436.7 L696.3,430.7 L698.3,432.7 L690.3,438.7 Z"/>
<path d="M698,439.5 L706,433.5 L708,435.5 L700,441.5 Z"/>
<ellipse cx="707" cy="415" rx="3" ry="2.6" fill="#fff"/>
<path d="M704.4,416 L707,420 L709.6,416"/>
<ellipse cx="719" cy="421" rx="3" ry="2.6" fill="#fff"/>
<path d="M716.4,422 L719,426 L721.6,422"/>
<path d="M707.5,456.5 L737.9,472.1 L701.4,504.2 L669.4,487.7 Z" fill="#fff"/>
<ellipse cx="707" cy="460.3" rx="1.4" ry="1.1" fill="#fff"/>
<ellipse cx="732.4" cy="473.3" rx="1.4" ry="1.1" fill="#fff"/>
<ellipse cx="701.9" cy="500.4" rx="1.4" ry="1.1" fill="#fff"/>
<ellipse cx="674.9" cy="486.5" rx="1.4" ry="1.1" fill="#fff"/>
<ellipse cx="711" cy="472.1" rx="12.3" ry="8.8" transform="rotate(-15 711 472.1)"/>
<ellipse cx="695" cy="487.7" rx="12.3" ry="8.8" transform="rotate(-15 695 487.7)"/>
<path d="M664.2,571.8 L672,564.8 L734.4,551 L738.7,549.2 L698.8,589.1 Z" fill="#fff"/>
<line x1="664.2" y1="571.8" x2="664.5" y2="574"/>
<line x1="698.8" y1="589.1" x2="699" y2="591.5"/>
<line x1="738.7" y1="549.2" x2="739" y2="551.5"/>
<path d="M664.5,574 L699,591.5 L739,551.5"/>
<path d="M672,537 Q672,530 676.3,530.2 L696.2,511.1 Q703,506 711,508.5 L731.8,514.6 Q736,518 734.4,523.2 L734.4,551 L700,585 Q690,588 680,583 L672,570 Z" fill="#fff"/>
<path d="M672,541.0 Q675,551.0 688,554.0 Q698,555.0 708,547.0 L734,523.0"/>
<path d="M672,546.2 Q675,556.2 688,559.2 Q698,560.2 708,552.2 L734,528.2"/>
<path d="M672,551.4 Q675,561.4 688,564.4 Q698,565.4 708,557.4 L734,533.4"/>
<path d="M672,556.6 Q675,566.6 688,569.6 Q698,570.6 708,562.6 L734,538.6"/>
<path d="M672,561.8 Q675,571.8 688,574.8 Q698,575.8 708,567.8 L734,543.8"/>
<path d="M672,567.0 Q675,577.0 688,580.0 Q698,581.0 708,573.0 L734,549.0"/>
<path d="M672,572.2 Q675,582.2 688,585.2 Q698,586.2 708,578.2 L734,554.2"/>
<ellipse cx="712.7" cy="521.5" rx="13.5" ry="10" transform="rotate(-12 712.7 521.5)" fill="#fff"/>
<ellipse cx="712.7" cy="521.5" rx="11.5" ry="8.3" transform="rotate(-12 712.7 521.5)"/>
<ellipse cx="697.1" cy="537.1" rx="13.5" ry="10" transform="rotate(-12 697.1 537.1)" fill="#fff"/>
<ellipse cx="697.1" cy="537.1" rx="11.5" ry="8.3" transform="rotate(-12 697.1 537.1)"/>
<path d="M711,587.4 L741.3,603.9 L702.3,637.7 L669.4,620.3 Z" fill="#fff"/>
<ellipse cx="710.3" cy="591.4" rx="1.4" ry="1.1" fill="#fff"/>
<ellipse cx="735.5" cy="605.2" rx="1.4" ry="1.1" fill="#fff"/>
<ellipse cx="703" cy="633.7" rx="1.4" ry="1.1" fill="#fff"/>
<ellipse cx="675.2" cy="619" rx="1.4" ry="1.1" fill="#fff"/>
<path d="M676,620 Q676,613 684,608 L703,596 Q710,592 718,595 L728,601 Q734,606 728,612 L714,624 Q706,631 698,630 L684,627 Q677,626 676,620 Z"/>
<circle cx="694" cy="606" r="2"/>
<circle cx="716" cy="622" r="2"/>
<line x1="764.6" y1="478" x2="764.6" y2="615" stroke-dasharray="10 2 2 2" stroke-width="0.6"/>
<ellipse cx="765.6" cy="484.2" rx="12.5" ry="5.2" stroke-width="1.6"/>
<line x1="758.6" y1="485.2" x2="768.6" y2="482.2" stroke-width="1.3"/>
<ellipse cx="765.6" cy="501.6" rx="12.5" ry="5.2" stroke-width="1.6"/>
<line x1="758.6" y1="502.6" x2="768.6" y2="499.6" stroke-width="1.3"/>
<ellipse cx="765.6" cy="517.2" rx="12.5" ry="5.2" stroke-width="1.6"/>
<line x1="758.6" y1="518.2" x2="768.6" y2="515.2" stroke-width="1.3"/>
<path d="M752.6,530 L752.6,547 Q765.6,556 778.6,547 L778.6,530" fill="#fff"/>
<ellipse cx="765.6" cy="530" rx="13" ry="5" fill="#fff"/>
<path d="M752.6,534 Q765.6,540 778.6,534" stroke-width="1.1"/>
<path d="M752.6,536 Q765.6,542 778.6,536" stroke-width="1.1"/>
<path d="M752.6,538 Q765.6,544 778.6,538" stroke-width="1.1"/>
<circle cx="774.3" cy="544" r="1.8" fill="#fff"/>
<line x1="741.3" y1="525" x2="803.7" y2="561.4" stroke-dasharray="8 4" stroke-width="0.7"/>
<circle cx="741.3" cy="525" r="1" fill="#222"/>
<circle cx="803.7" cy="560.5" r="1.2" fill="#222"/>
<path d="M789.3,553.6 L796,558.9 L797.6,556.9 L790.9,551.5 Z" fill="#fff"/>
<path d="M796,558.9 L796,558.9 L797.6,556.9 L797.6,556.9 Z" fill="#777"/>
<ellipse cx="764.7" cy="563.1" rx="3.8" ry="4.6" fill="#fff"/>
<ellipse cx="764.7" cy="563.1" rx="2" ry="2.6"/>
<path d="M762.5,567 L762,592 L767.5,592 L767,567 Z" fill="#fff"/>
<line x1="764.7" y1="570" x2="764.7" y2="590" stroke-width="1.3"/>
<ellipse cx="764.7" cy="597.8" rx="6" ry="7" fill="#fff"/>
<ellipse cx="764.7" cy="597.8" rx="3" ry="4" transform="rotate(15 764.7 597.8)"/>
<path d="M762.5,604.5 L763.9,615.1 L766.5,604.5 Z" fill="#fff"/>
<line x1="631.2" y1="556" x2="631.2" y2="698" stroke-dasharray="10 2 2 2" stroke-width="0.6"/>
<ellipse cx="631.2" cy="559.6" rx="12.5" ry="5.2" stroke-width="1.6"/>
<line x1="624.2" y1="560.6" x2="634.2" y2="557.6" stroke-width="1.3"/>
<ellipse cx="631.2" cy="578.7" rx="12.5" ry="5.2" stroke-width="1.6"/>
<line x1="624.2" y1="579.7" x2="634.2" y2="576.7" stroke-width="1.3"/>
<ellipse cx="631.2" cy="594.3" rx="12.5" ry="5.2" stroke-width="1.6"/>
<line x1="624.2" y1="595.3" x2="634.2" y2="592.3" stroke-width="1.3"/>
<path d="M618.2,606.5 L618.2,625 Q631.2,633 644.2,625 L644.2,606.5" fill="#fff"/>
<ellipse cx="631.2" cy="606.5" rx="13" ry="5" fill="#fff"/>
<path d="M618.2,610 Q631.2,616 644.2,610" stroke-width="1.1"/>
<path d="M618.2,612 Q631.2,618 644.2,612" stroke-width="1.1"/>
<path d="M618.2,614 Q631.2,620 644.2,614" stroke-width="1.1"/>
<circle cx="639.9" cy="620.3" r="1.8" fill="#fff"/>
<line x1="606.1" y1="601.3" x2="669.4" y2="637.7" stroke-dasharray="8 4" stroke-width="0.7"/>
<circle cx="606.1" cy="601.3" r="1" fill="#222"/>
<circle cx="669.4" cy="637.7" r="1.2" fill="#222"/>
<path d="M654.3,630.5 L661.7,635.3 L663.1,633.1 L655.7,628.4 Z" fill="#fff"/>
<path d="M661.7,635.3 L661.7,635.3 L663.1,633.1 L663.1,633.1 Z" fill="#777"/>
<ellipse cx="632.1" cy="642.9" rx="3.8" ry="4.6" fill="#fff"/>
<ellipse cx="632.1" cy="642.9" rx="2" ry="2.6"/>
<path d="M630,647 L629.5,674 L634.5,674 L634,647 Z" fill="#fff"/>
<line x1="632.1" y1="650" x2="632.1" y2="672" stroke-width="1.3"/>
<ellipse cx="632.1" cy="679.3" rx="6" ry="7" fill="#fff"/>
<ellipse cx="632.1" cy="679.3" rx="3" ry="4" transform="rotate(15 632.1 679.3)"/>
<path d="M630,686 L631.2,696.6 L634,686 Z" fill="#fff"/>
<path d="M884,211 L1030,296 C1050,308 1057,344 1046,360 C1039,369 1030,369 1024,366 L900,329 C870,320 851,284 853,250 C854,226 868,210 884,211 Z" fill="#fff" stroke-width="1"/>
<path d="M885,214 L1028,299 M1025,363 L901,326" stroke-width="0.7"/>
<path d="M887,218 L1026,302 C1043,313 1049,343 1040,356 C1034,363 1028,362 1024,360 L903,322 C876,314 859,283 860,252 C861,231 872,217 887,218 Z" stroke-width="0.9"/>
<line x1="884" y1="211" x2="887" y2="218"/>
<line x1="1030" y1="296" x2="1026" y2="302"/>
<line x1="900" y1="329" x2="903" y2="322"/>
<line x1="1024" y1="366" x2="1024" y2="360"/>
<path d="M821.3,573.3 L844.4,554.2 L850.1,561.1 L827.1,580.3 Z" fill="#fff"/>
<ellipse cx="847.3" cy="557.6" rx="2.2" ry="4.5" transform="rotate(-39.7 847.3 557.6)" fill="#fff"/>
<path d="M814.1,570.9 L821.8,564.5 L835.8,581.4 L828.2,587.8 Z" fill="#fff"/>
<ellipse cx="821.1" cy="579.4" rx="5.5" ry="11" transform="rotate(-39.7 821.1 579.4)" fill="#fff"/>
<ellipse cx="828.8" cy="573" rx="5.5" ry="11" transform="rotate(-39.7 828.8 573)" fill="#fff"/>
<path d="M805.9,586.1 L819.8,574.6 L825.5,581.5 L811.7,593 Z" fill="#fff"/>
<ellipse cx="822.7" cy="578.1" rx="2.2" ry="4.5" transform="rotate(-39.7 822.7 578.1)" fill="#fff"/>
<path d="M789.7,585.3 L800.5,576.4 L819,598.7 L808.2,607.6 Z" fill="#fff"/>
<ellipse cx="799" cy="596.5" rx="7.2" ry="14.5" transform="rotate(-39.7 799 596.5)" fill="#fff"/>
<ellipse cx="809.7" cy="587.5" rx="7.2" ry="14.5" transform="rotate(-39.7 809.7 587.5)" fill="#fff"/>
<path d="M782.9,608.5 L799.9,594.4 L806.2,602.1 L789.3,616.2 Z" fill="#fff"/>
<ellipse cx="803" cy="598.3" rx="2.5" ry="5" transform="rotate(-39.7 803 598.3)" fill="#fff"/>
<path d="M769.4,612.6 L781,603 L796.9,622.2 L785.4,631.8 Z" fill="#fff"/>
<ellipse cx="777.4" cy="622.2" rx="6.2" ry="12.5" transform="rotate(-39.7 777.4 622.2)" fill="#fff"/>
<ellipse cx="788.9" cy="612.6" rx="6.2" ry="12.5" transform="rotate(-39.7 788.9 612.6)" fill="#fff"/>
<path d="M744,636.7 L772.4,613.1 L779.1,621.1 L750.6,644.7 Z" fill="#fff"/>
<ellipse cx="775.8" cy="617.1" rx="2.6" ry="5.2" transform="rotate(-39.7 775.8 617.1)" fill="#fff"/>
<ellipse cx="747.3" cy="640.7" rx="2.6" ry="5.2" transform="rotate(-39.7 747.3 640.7)" fill="#fff"/>
<line x1="741.1" y1="645.8" x2="924.2" y2="493.7" stroke-dasharray="14 3 2 3" stroke-width="0.7"/>
<ellipse cx="852" cy="553.5" rx="4.2" ry="8.2" transform="rotate(-39.7 852 553.5)" fill="#fff"/>
<ellipse cx="849.5" cy="556" rx="4.2" ry="8.2" transform="rotate(-39.7 849.5 556)" fill="#fff"/>
<ellipse cx="849.5" cy="556" rx="2.5" ry="5" transform="rotate(-39.7 849.5 556)"/>
<ellipse cx="869" cy="540" rx="9" ry="13" transform="rotate(-39.7 869 540)" fill="#fff"/>
<circle cx="877.5" cy="544.1" r="1.6" fill="#fff"/>
<circle cx="862.1" cy="547.7" r="1.6" fill="#fff"/>
<circle cx="867.4" cy="528.2" r="1.6" fill="#fff"/>
<ellipse cx="869" cy="540" rx="7.5" ry="11" transform="rotate(-39.7 869 540)"/>
<ellipse cx="887" cy="526" rx="6" ry="7.8" transform="rotate(-39.7 887 526)" fill="#fff"/>
<ellipse cx="887" cy="526" rx="3.6" ry="5" transform="rotate(-39.7 887 526)"/>
<ellipse cx="885.5" cy="527.5" rx="6" ry="7.8" transform="rotate(-39.7 885.5 527.5)"/>
<path d="M898,497 L905,494 L918,500 L921,507 L920,519 L914,525 L906,524 L897,517 L894,506 Z" fill="#fff"/>
<ellipse cx="908" cy="509" rx="8" ry="10" transform="rotate(-39.7 908 509)" fill="#fff"/>
<ellipse cx="909" cy="509" rx="5" ry="6.5" transform="rotate(-39.7 909 509)"/>
<ellipse cx="909.5" cy="509" rx="3" ry="4" transform="rotate(-39.7 909.5 509)" fill="#555"/>
<circle cx="898" cy="498" r="1.6" fill="#fff"/>
<circle cx="918" cy="502" r="1.6" fill="#fff"/>
<circle cx="915" cy="523" r="1.6" fill="#fff"/>
<circle cx="897" cy="515" r="1.6" fill="#fff"/>
<path d="M941.3,454.8 L929.1,467.1 L930.9,468.9 L943.2,456.7 Z" fill="#fff"/>
<path d="M935.4,460.8 L929.1,467.1 L930.9,468.9 L937.2,462.6 Z" fill="#777"/>
<ellipse cx="943.2" cy="454.8" rx="2.2" ry="2.5" transform="rotate(135.0 943.2 454.8)" fill="#777"/>
<ellipse cx="926" cy="472" rx="1.5" ry="2.2" transform="rotate(40 926 472)" fill="#fff"/><ellipse cx="926" cy="472" rx="0.7" ry="1" transform="rotate(40 926 472)" fill="#555"/>
<line x1="924" y1="474" x2="922" y2="476" stroke-width="0.6"/>
<path d="M936.3,474.8 L923.1,487 L924.9,489 L938.1,476.7 Z" fill="#fff"/>
<path d="M929.9,480.7 L923.1,487 L924.9,489 L931.6,482.7 Z" fill="#777"/>
<ellipse cx="938.1" cy="474.8" rx="2.2" ry="2.5" transform="rotate(136.97493401088198 938.1 474.8)" fill="#777"/>
<ellipse cx="920" cy="491" rx="1.5" ry="2.2" transform="rotate(40 920 491)" fill="#fff"/><ellipse cx="920" cy="491" rx="0.7" ry="1" transform="rotate(40 920 491)" fill="#555"/>
<line x1="918" y1="493" x2="916" y2="495" stroke-width="0.6"/>
<path d="M954.3,476.8 L941.1,489 L942.9,491 L956.1,478.7 Z" fill="#fff"/>
<path d="M947.9,482.7 L941.1,489 L942.9,491 L949.6,484.7 Z" fill="#777"/>
<ellipse cx="956.1" cy="476.8" rx="2.2" ry="2.5" transform="rotate(136.97493401088198 956.1 476.8)" fill="#777"/>
<ellipse cx="938" cy="493" rx="1.5" ry="2.2" transform="rotate(40 938 493)" fill="#fff"/><ellipse cx="938" cy="493" rx="0.7" ry="1" transform="rotate(40 938 493)" fill="#555"/>
<line x1="936" y1="495" x2="934" y2="497" stroke-width="0.6"/>
<path d="M949.3,498.8 L936.1,511 L937.9,513 L951.1,500.7 Z" fill="#fff"/>
<path d="M942.9,504.7 L936.1,511 L937.9,513 L944.6,506.7 Z" fill="#777"/>
<ellipse cx="951.1" cy="498.8" rx="2.2" ry="2.5" transform="rotate(136.97493401088198 951.1 498.8)" fill="#777"/>
<ellipse cx="934" cy="515" rx="1.5" ry="2.2" transform="rotate(40 934 515)" fill="#fff"/><ellipse cx="934" cy="515" rx="0.7" ry="1" transform="rotate(40 934 515)" fill="#555"/>
<line x1="932" y1="517" x2="930" y2="519" stroke-width="0.6"/>
<ellipse cx="1002" cy="435" rx="64" ry="50" transform="rotate(50 1002 435)" fill="#fff"/>
<ellipse cx="1000.5" cy="436" rx="63" ry="49.5" transform="rotate(50 1000.5 436)"/>
<ellipse cx="999" cy="437" rx="62" ry="49" transform="rotate(50 999 437)" fill="#fff"/>
<ellipse cx="997.5" cy="438" rx="58" ry="46" transform="rotate(50 997.5 438)"/>
<ellipse cx="997" cy="438" rx="52" ry="41" transform="rotate(50 997 438)"/>
<path d="M982,420 L958,391.5 L961.5,389.5 L985,418 Z" fill="#fff"/>
<path d="M975.5,426 L946.5,413.5 L947.5,417 L975.5,429.5 Z" fill="#fff"/>
<path d="M990.5,419 L986,390 L990,389.5 L994.5,419 Z" fill="#fff"/>
<path d="M976,439 L955.5,447.5 L957,451 L977,442.5 Z" fill="#fff"/>
<path d="M1005,421 L1013,404 L1022,413 L1010,424 Z" fill="#fff"/>
<path d="M1013,429 L1034,427.5 L1042,447.5 L1013,436 Z" fill="#fff"/>
<path d="M1011,450 L1042,458 L1036,472 L1008,455 Z" fill="#fff"/>
<path d="M1002,459 L1017,492 L1005,491 L997,461 Z" fill="#fff"/>
<path d="M988,456 L985,485 L975,478 L983,453 Z" fill="#fff"/>
<ellipse cx="996" cy="437" rx="22" ry="18" transform="rotate(50 996 437)" fill="#fff"/>
<ellipse cx="997.5" cy="436" rx="19" ry="15.5" transform="rotate(50 997.5 436)"/>
<path d="M990,452 L993,459 L1003,455 L1000,448 Z" fill="#fff"/>
<ellipse cx="998" cy="436" rx="5.5" ry="4.5" transform="rotate(50 998 436)" fill="#fff"/>
<ellipse cx="998" cy="436" rx="3" ry="2.5" transform="rotate(50 998 436)"/>
<line x1="1088" y1="365" x2="918" y2="500" stroke-dasharray="14 3 2 3" stroke-width="0.7"/>
<ellipse cx="1045" cy="399" rx="7" ry="5" transform="rotate(-30 1045 399)" fill="#fff"/>
<ellipse cx="1045" cy="399" rx="4" ry="2.8" transform="rotate(-30 1045 399)"/>
<ellipse cx="1059" cy="388" rx="1.5" ry="2.2" transform="rotate(40 1059 388)" fill="#fff"/><ellipse cx="1059" cy="388" rx="0.7" ry="1" transform="rotate(40 1059 388)" fill="#555"/>
<path d="M1075.2,373.5 L1062.2,384 L1063.8,386 L1076.9,375.6 Z" fill="#fff"/>
<path d="M1069.7,378 L1062.2,384 L1063.8,386 L1071.3,380 Z" fill="#777"/>
<ellipse cx="1077.1" cy="373.7" rx="2.2" ry="2.5" transform="rotate(141.34019174590992 1077.1 373.7)" fill="#777"/>
<path d="M270.8,557.5 L270.8,565 L345,595 L349.2,595 L415.8,574.2 L415,566.7 L346.7,586.7 Z" fill="#fff"/>
<path d="M270.8,557.5 L337.5,536.3 L353.3,542.5 L355,545.8 L330.8,550.8 L326.7,550 L330.8,553.3 L370,567.5 L398.3,559.2 L415,566.7 L346.7,586.7 Z" fill="#fff" stroke-width="1"/>
<line x1="271" y1="561" x2="346" y2="591"/>
<line x1="350" y1="591" x2="415.5" y2="570.5"/>
<line x1="346.7" y1="586.7" x2="347" y2="595"/>
<line x1="355" y1="545.8" x2="355" y2="549"/>
<line x1="331" y1="553.3" x2="353" y2="549"/>
<path d="M286.7,611.7 L326.7,600.8 Q336,601 337.5,610 L337.5,625 L293.3,639.2 Z" fill="#fff"/>
<ellipse cx="288.3" cy="626.7" rx="8.3" ry="13.3" transform="rotate(-12 288.3 626.7)" fill="#fff"/>
<ellipse cx="289.5" cy="627" rx="6.3" ry="11" transform="rotate(-12 289.5 627)"/>
<path d="M337.5,606 L341,605.5 L341,608 L337.5,608.5"/>
<path d="M337.5,613 L341,612.5 L341,615 L337.5,615.5"/>
<path d="M350,625 L390,613.3 Q399,613 400,620 L400,638.3 L356.7,652.5 Z" fill="#fff"/>
<ellipse cx="352.5" cy="639.2" rx="8.3" ry="13.3" transform="rotate(-12 352.5 639.2)" fill="#fff"/>
<ellipse cx="353.7" cy="639.5" rx="6.3" ry="11" transform="rotate(-12 353.7 639.5)"/>
<path d="M400,618 L404,617.5 L404,620 L400,620.5"/>
<path d="M400,626 L404,625.5 L404,628 L400,628.5"/>
<path d="M245,655 L261.7,649.2 L281.7,655.8 L281.7,665.8 L265,673.3 L245,665 Z" fill="#fff"/>
<path d="M245,655 L265,663.3 L281.7,655.8"/>
<line x1="265" y1="663.3" x2="265" y2="673.3"/>
<path d="M270,650.5 L273,649.5 L274,652"/>
<path d="M282,657 L287,656 L287,659 L282,660"/>
<path d="M246.7,661.5 L254,659 L254,667 L246.7,670 Z" fill="#fff"/>
<ellipse cx="246.7" cy="665.8" rx="2.3" ry="3.8" fill="#fff"/>
<ellipse cx="254.2" cy="663.3" rx="2" ry="3.5"/>
<path d="M276,690.4 L342.5,669.5 L358.3,674.6 L358.9,679 L403.9,694.8 L416,698.6 L419.7,718 L423.5,730 L423.5,809.5 L350,832.3 L337.4,827.2 L336.1,810.7 L300,815 L277.2,717 Z" fill="#fff"/>
<path d="M276,690.4 L342.5,669.5 L358.3,674.6 L358.9,679"/>
<path d="M277,693.5 L342,672.5 L356,677"/>
<path d="M276,690.4 L352.6,718.9 L416,698.6 L403.9,694.8 L358.9,680"/>
<path d="M280,693 L352,716 L412,698"/>
<line x1="276" y1="690.4" x2="277.2" y2="717"/>
<line x1="352.6" y1="718.9" x2="350" y2="744.9"/>
<line x1="356.5" y1="719" x2="355.5" y2="741"/>
<line x1="416" y1="698.6" x2="419.7" y2="718.3"/>
<path d="M327.9,684.7 L342,680 L377.9,697 L377.9,703.1"/>
<path d="M327.9,684.7 L327.9,690 L364,706"/>
<path d="M306,695 L330,687"/>
<path d="M320,701 L337,695 L337,698"/>
<path d="M377.9,697 L403.9,689 L403.9,694.8"/>
<path d="M358.3,674.6 L360,688"/>
<ellipse cx="286.5" cy="704.5" rx="2.2" ry="2.8"/>
<circle cx="281" cy="691.5" r="0.8" fill="#222"/>
<circle cx="352.5" cy="719" r="0.8" fill="#222"/>
<circle cx="414.8" cy="699" r="0.8" fill="#222"/>
<circle cx="353" cy="671" r="0.8" fill="#222"/>
<line x1="356.4" y1="734.7" x2="419.7" y2="715.7"/>
<path d="M341.5,749.9 L341.5,753.9 L423,730.1"/>
<line x1="341.5" y1="749.9" x2="421" y2="727.1"/>
<line x1="344" y1="757.9" x2="423" y2="734.1" stroke-width="0.7"/>
<path d="M341.5,762.6 L341.5,766.6 L423,745.3"/>
<line x1="341.5" y1="762.6" x2="421" y2="742.3"/>
<line x1="344" y1="770.6" x2="423" y2="749.3" stroke-width="0.7"/>
<path d="M341.5,777.2 L341.5,781.2 L423,759.3"/>
<line x1="341.5" y1="777.2" x2="421" y2="756.3"/>
<line x1="344" y1="785.2" x2="423" y2="763.3" stroke-width="0.7"/>
<path d="M341.5,791.7 L341.5,795.7 L423,773.2"/>
<line x1="341.5" y1="791.7" x2="421" y2="770.2"/>
<line x1="344" y1="799.7" x2="423" y2="777.2" stroke-width="0.7"/>
<path d="M341.5,801.9 L341.5,805.9 L423,782.1"/>
<line x1="341.5" y1="801.9" x2="421" y2="779.1"/>
<line x1="344" y1="809.9" x2="423" y2="786.1" stroke-width="0.7"/>
<line x1="420" y1="718" x2="423.5" y2="809.5"/>
<path d="M336.1,810.7 L337.4,827.2 L350,832.3 L423.5,809.5 L423.5,804.4 L348,826.5 L338.7,810.7 Z" fill="#fff"/>
<line x1="338.7" y1="810.7" x2="423.5" y2="804.4"/>
<line x1="409" y1="786.7" x2="413.4" y2="801.9"/>
<line x1="348" y1="826.5" x2="350" y2="832.3"/>
<ellipse cx="353.9" cy="824.7" rx="2.2" ry="1.2"/>
<ellipse cx="407.7" cy="806.9" rx="2.2" ry="1.2"/>
<path d="M419.7,721.5 L431,717.5 L433.5,731 L423.5,736 Z" fill="#fff"/>
<ellipse cx="431.5" cy="724.3" rx="3" ry="6.8" transform="rotate(-15 431.5 724.3)" fill="#fff"/>
<line x1="433" y1="724" x2="519.7" y2="694.6"/>
<path d="M299.4,715.1 C310,714 316,719 320.9,724.6 C330,733 336,740 338.7,748.7 C343,758 345,766 344.4,774 C344,785 343,792 341.2,799.3 C337,808 332,813 326,815.2 C318,817 308,816 300.7,815.2 C290,813 282,806 275.3,799.3 C268,793 263,788 261.4,784.1 C257,775 257,766 258.9,757.7 C263,740 280,722 299.4,715.1 Z" fill="#fff" stroke-width="1"/>
<ellipse cx="280.4" cy="775.3" rx="13.9" ry="22.2" transform="rotate(-12 280.4 775.3)"/>
<ellipse cx="483" cy="708.5" rx="22" ry="29" transform="rotate(-8 483 708.5)" fill="#fff"/>
<ellipse cx="479" cy="709.5" rx="21" ry="28.5" transform="rotate(-8 479 709.5)" fill="#fff"/>
<ellipse cx="476.5" cy="710" rx="20" ry="28" transform="rotate(-8 476.5 710)" fill="#fff"/>
<ellipse cx="473" cy="710.8" rx="18.5" ry="27" transform="rotate(-8 473 710.8)" fill="#fff"/>
<ellipse cx="471" cy="711.5" rx="12" ry="17" transform="rotate(-8 471 711.5)"/>
<path d="M458,707 L466,704 L471,707 L471,718 L463,721 L458,718 Z" fill="#fff"/>
<ellipse cx="460" cy="712.5" rx="4" ry="6.5" transform="rotate(-8 460 712.5)" fill="#fff"/>
<ellipse cx="460" cy="712.5" rx="2.2" ry="3.6" transform="rotate(-8 460 712.5)"/>
<line x1="466" y1="704" x2="466" y2="719"/>
<line x1="482" y1="700" x2="485" y2="718"/>
<path d="M672,664.8 L714.7,631.7 L746.1,650.9 L753,696.8 L754.7,696.8 L754.7,708.5 L705,740.5 L699.2,740.5 L647.5,708.5 L648,700 L660,682 Z" fill="#fff" stroke-width="1"/>
<path d="M672,664.8 L702.9,681.9 L746.1,650.9" stroke-width="1"/>
<path d="M674.5,664.5 L714.5,634.5 L743.5,651 L703,679 Z"/>
<line x1="702.9" y1="681.9" x2="699.7" y2="735.2"/>
<line x1="648.5" y1="700" x2="699.7" y2="735.2" stroke-width="1.3"/>
<line x1="699.7" y1="735.2" x2="754.7" y2="704"/>
<line x1="672" y1="664.8" x2="648.5" y2="700"/>
<line x1="648" y1="704.3" x2="699.2" y2="737.5"/>
<line x1="705" y1="737.5" x2="754.7" y2="706"/>
<path d="M685,670 Q682,660 692,655 L705,648 Q712,645 716,648 L706,672 Q700,678 693,677 Z"/>
<path d="M718,648 Q725,642 732,646 Q737,652 733,660 L716,672 Q712,675 710,672 Z"/>
<line x1="701" y1="650" x2="694" y2="674"/>
<line x1="710" y1="647" x2="703" y2="672"/>
<ellipse cx="697" cy="652" rx="1.5" ry="1.1"/>
<ellipse cx="716" cy="638" rx="1.5" ry="1.1"/>
<ellipse cx="739" cy="652" rx="1.5" ry="1.1"/>
<ellipse cx="719" cy="667" rx="1.5" ry="1.1"/>
<ellipse cx="679" cy="666" rx="1.5" ry="1.1"/>
<path d="M668,678 L690,690 L693,701 L688,710 L668,707 L661,697 L664,683 Z" fill="#fff"/>
<ellipse cx="679" cy="694" rx="10.5" ry="12.5" transform="rotate(-15 679 694)" fill="#fff"/>
<ellipse cx="680.5" cy="693.5" rx="7.5" ry="9.5" transform="rotate(-15 680.5 693.5)"/>
<circle cx="671" cy="681" r="1.3" fill="#fff"/>
<circle cx="689" cy="690" r="1.3" fill="#fff"/>
<circle cx="686" cy="708" r="1.3" fill="#fff"/>
<circle cx="666" cy="699" r="1.3" fill="#fff"/>
<circle cx="692.3" cy="721.3" r="3.8"/>
<circle cx="692.3" cy="721.3" r="1.8"/>
<line x1="661" y1="700" x2="664" y2="703" stroke-width="1.5"/>
<line x1="712.5" y1="697" x2="741.3" y2="677"/>
<line x1="712.5" y1="698.6" x2="741.3" y2="678.6" stroke-width="0.6"/>
<line x1="712.5" y1="700.6" x2="741.3" y2="680.3"/>
<line x1="712.5" y1="702.2" x2="741.3" y2="681.9" stroke-width="0.6"/>
<line x1="712.5" y1="704.2" x2="741.3" y2="683.6"/>
<line x1="712.5" y1="705.8" x2="741.3" y2="685.2" stroke-width="0.6"/>
<line x1="712.5" y1="707.8" x2="741.3" y2="686.9"/>
<line x1="712.5" y1="709.4" x2="741.3" y2="688.5" stroke-width="0.6"/>
<line x1="712.5" y1="711.4" x2="741.3" y2="690.2"/>
<line x1="712.5" y1="713" x2="741.3" y2="691.8" stroke-width="0.6"/>
<line x1="712.5" y1="715" x2="741.3" y2="693.6"/>
<line x1="712.5" y1="716.6" x2="741.3" y2="695.2" stroke-width="0.6"/>
<line x1="712.5" y1="718.6" x2="741.3" y2="696.9"/>
<line x1="712.5" y1="720.2" x2="741.3" y2="698.5" stroke-width="0.6"/>
<line x1="712.5" y1="722.2" x2="741.3" y2="700.2"/>
<line x1="712.5" y1="723.8" x2="741.3" y2="701.8" stroke-width="0.6"/>
<path d="M709,699 Q711,695 713,699 L713,724 Q711,727 709,724 Z" fill="#fff"/>
<path d="M743,672 Q745,668 747,672 L747,697 Q745,700 743,697 Z" fill="#fff"/>
<line x1="703" y1="715" x2="708" y2="712"/>
<line x1="703" y1="718.5" x2="708" y2="715.5"/>
<line x1="703" y1="722" x2="708" y2="719"/>
<line x1="703" y1="725.5" x2="708" y2="722.5"/>
<line x1="703" y1="729" x2="708" y2="726"/>
<ellipse cx="621.8" cy="736.3" rx="10" ry="13.5" transform="rotate(-35 621.8 736.3)" fill="#fff"/>
<ellipse cx="621.8" cy="736.3" rx="8" ry="11" transform="rotate(-35 621.8 736.3)"/>
<circle cx="615" cy="723" r="1.5" fill="#fff"/>
<circle cx="631" cy="729" r="1.5" fill="#fff"/>
<circle cx="628" cy="750" r="1.5" fill="#fff"/>
<circle cx="612" cy="744" r="1.5" fill="#fff"/>
<ellipse cx="603.5" cy="754.5" rx="6" ry="6.5" transform="rotate(-35 603.5 754.5)" fill="#fff"/>
<ellipse cx="601.5" cy="756.5" rx="6" ry="6.5" transform="rotate(-35 601.5 756.5)" fill="#fff"/>
<ellipse cx="601.5" cy="756.5" rx="3.5" ry="4" transform="rotate(-35 601.5 756.5)"/>
<path d="M562,709 Q566,706 570,709 L571.5,727 Q567,730 563,727 Z" fill="#fff"/>
<line x1="563.5" y1="710" x2="564.5" y2="727" stroke-width="0.6"/>
<line x1="565.3" y1="710" x2="566.3" y2="727" stroke-width="0.6"/>
<line x1="567.1" y1="710" x2="568.1" y2="727" stroke-width="0.6"/>
<line x1="568.9" y1="710" x2="569.9" y2="727" stroke-width="0.6"/>
<path d="M564,727 L564,731 L570,731 L570,727 Z" fill="#333"/>
<line x1="567.4" y1="733" x2="567.4" y2="756" stroke-dasharray="5 3" stroke-width="0.6"/>
<ellipse cx="579" cy="776" rx="16" ry="18" transform="rotate(-35 579 776)" fill="#fff"/>
<path d="M562,768 Q566,758 578,758 Q589,760 592,770 L589,790 Q580,797 570,792 Z" fill="#fff"/>
<ellipse cx="572" cy="775" rx="9" ry="12" transform="rotate(-35 572 775)" fill="#fff"/>
<ellipse cx="572" cy="775" rx="6.5" ry="9.5" transform="rotate(-35 572 775)"/>
<path d="M572,760 L582,757 L584,762 L574,765 Z" fill="#fff"/>
<path d="M580,789 L584,786 L588,790 L583,794 Z" fill="#fff"/>
<line x1="500.3" y1="833.8" x2="560" y2="786" stroke-dasharray="14 3 2 3" stroke-width="0.7"/>
<line x1="592" y1="760" x2="660" y2="707" stroke-dasharray="14 3 2 3" stroke-width="0.7"/>
<ellipse cx="649.7" cy="765.4" rx="4.5" ry="6.5" transform="rotate(-35 649.7 765.4)" stroke-width="1.4"/>
<line x1="642.1" y1="775.5" x2="690.2" y2="721" stroke-dasharray="6 4" stroke-width="0.6"/>
<ellipse cx="631" cy="782" rx="5.5" ry="6.5" transform="rotate(-35 631 782)" fill="#888"/>
<ellipse cx="633" cy="780" rx="4.5" ry="5.5" transform="rotate(-35 633 780)" fill="#bbb"/>
<ellipse cx="633" cy="780" rx="2.5" ry="3" transform="rotate(-35 633 780)" fill="#444"/>
<line x1="628" y1="776" x2="634" y2="786" stroke-width="0.7"/>
<line x1="629.5" y1="777.2" x2="635.5" y2="787.2" stroke-width="0.7"/>
<line x1="631" y1="778.4" x2="637" y2="788.4" stroke-width="0.7"/>
<line x1="632.5" y1="779.6" x2="638.5" y2="789.6" stroke-width="0.7"/>
<line x1="625" y1="790" x2="621" y2="795" stroke-width="0.6"/>
<path d="M515.7,798 L532.5,787.9 L531.3,785.9 L514.4,796 Z" fill="#fff"/>
<path d="M524,793.1 L532.5,787.9 L531.3,785.9 L522.7,791 Z" fill="#777"/>
<ellipse cx="513.9" cy="797.7" rx="2.2" ry="2.3" transform="rotate(-30.96375653207347 513.9 797.7)" fill="#777"/>
<ellipse cx="534.5" cy="783.1" rx="1.3" ry="2.1" transform="rotate(35 534.5 783.1)" fill="#fff"/><ellipse cx="534.5" cy="783.1" rx="0.6" ry="0.9" transform="rotate(35 534.5 783.1)" fill="#555"/>
<line x1="536" y1="781.6" x2="538.5" y2="779.6" stroke-width="0.6"/>
<path d="M514.5,811.9 L532.5,800.6 L531.3,798.6 L513.2,809.9 Z" fill="#fff"/>
<path d="M523.4,806.3 L532.5,800.6 L531.3,798.6 L522.2,804.3 Z" fill="#777"/>
<ellipse cx="512.7" cy="811.6" rx="2.2" ry="2.3" transform="rotate(-31.954362937051457 512.7 811.6)" fill="#777"/>
<ellipse cx="533.2" cy="797" rx="1.3" ry="2.1" transform="rotate(35 533.2 797)" fill="#fff"/><ellipse cx="533.2" cy="797" rx="0.6" ry="0.9" transform="rotate(35 533.2 797)" fill="#555"/>
<line x1="534.7" y1="795.5" x2="537.2" y2="793.5" stroke-width="0.6"/>
<path d="M532.1,818.1 L549.1,805.6 L547.7,803.6 L530.7,816.2 Z" fill="#fff"/>
<path d="M540.6,811.9 L549.1,805.6 L547.7,803.6 L539.1,809.9 Z" fill="#777"/>
<ellipse cx="530.4" cy="817.9" rx="2.2" ry="2.3" transform="rotate(-36.384351815835885 530.4 817.9)" fill="#777"/>
<ellipse cx="550.9" cy="802.1" rx="1.3" ry="2.1" transform="rotate(35 550.9 802.1)" fill="#fff"/><ellipse cx="550.9" cy="802.1" rx="0.6" ry="0.9" transform="rotate(35 550.9 802.1)" fill="#555"/>
<line x1="552.4" y1="800.6" x2="554.9" y2="798.6" stroke-width="0.6"/>
<path d="M530.8,829.6 L547.8,818.3 L546.4,816.3 L529.5,827.6 Z" fill="#fff"/>
<path d="M539.2,824 L547.8,818.3 L546.4,816.3 L537.9,822 Z" fill="#777"/>
<ellipse cx="529.1" cy="829.3" rx="2.2" ry="2.3" transform="rotate(-33.759601204844664 529.1 829.3)" fill="#777"/>
<ellipse cx="549.7" cy="814.8" rx="1.3" ry="2.1" transform="rotate(35 549.7 814.8)" fill="#fff"/><ellipse cx="549.7" cy="814.8" rx="0.6" ry="0.9" transform="rotate(35 549.7 814.8)" fill="#555"/>
<line x1="551.2" y1="813.3" x2="553.7" y2="811.3" stroke-width="0.6"/>
<path d="M670,781.8 L683,774 L686,776 L690,771 L687,768 L700,760 L703,762 L707,757 L704,754 L718,745 Q722,737 728,737 L736,741 L736,744 L742,747 L746,745 L760,752 L760,755 L766,758 L770,756 Q779,760 777,766 L766,774 L763,772 L758,776 L761,779 L746,788 L743,786 L738,790 L741,793 L728,801 Q724,810 718,811 L711,807 L711,803 L705,800 L701,803 L688,796 L688,792 L682,789 L678,791 Q668,787 670,781.8 Z" fill="#fff"/>
<path d="M676,782 L714,759 Q722,752 730,746 L768,763 L724,803 L676,782 Z" stroke-width="0.7"/>
<circle cx="683" cy="780" r="1.2"/>
<circle cx="694" cy="773" r="1.2"/>
<circle cx="711" cy="762" r="1.2"/>
<circle cx="731" cy="747" r="1.2"/>
<circle cx="747" cy="754" r="1.2"/>
<circle cx="763" cy="765" r="1.2"/>
<circle cx="752" cy="780" r="1.2"/>
<circle cx="737" cy="792" r="1.2"/>
<circle cx="721" cy="803" r="1.2"/>
<circle cx="700" cy="793" r="1.2"/>
<circle cx="690" cy="787" r="1.2"/>
<circle cx="705" cy="798" r="1.2"/>
<circle cx="757" cy="773" r="1.2"/>
<path d="M680,860.5 L733.3,894.5 L789,844 L789,840" fill="#fff"/>
<path d="M680,857.8 L700,845 L704,848 L708,845 L706,842 L728,829 L729,822 L735.8,809.7 L789,838 L789,842 L783,846 L786,849 L765,862 L761,860 L757,863 L759,866 L744,876 L740,874 L736,877 L738,880 L733.3,892 L688,870 Q679,866 680,857.8 Z" fill="#fff"/>
<path d="M706,855 L730,830 Q738,820 750,825 Q764,832 760,845 L737,870 Z"/>
<line x1="706" y1="855" x2="735" y2="835"/>
<circle cx="686" cy="860" r="1.2"/>
<circle cx="696" cy="853" r="1.2"/>
<circle cx="716" cy="843" r="1.2"/>
<circle cx="724" cy="830" r="1.2"/>
<circle cx="741" cy="820" r="1.2"/>
<circle cx="759" cy="826" r="1.2"/>
<circle cx="778" cy="836" r="1.2"/>
<circle cx="771" cy="851" r="1.2"/>
<circle cx="752" cy="866" r="1.2"/>
<circle cx="733" cy="880" r="1.2"/>
<circle cx="712" cy="873" r="1.2"/>
<circle cx="696" cy="867" r="1.2"/>
<circle cx="747" cy="873" r="1.2"/>
<circle cx="728" cy="881" r="1.2"/>
<path d="M781.3,809 L775.6,813.8 L777.2,815.8 L782.9,811 Z" fill="#fff"/>
<path d="M778.6,811.2 L775.6,813.8 L777.2,815.8 L780.3,813.2 Z" fill="#777"/>
<ellipse cx="783.1" cy="809.2" rx="2.2" ry="2.5" transform="rotate(139.89909245378794 783.1 809.2)" fill="#777"/>
<line x1="784" y1="860.4" x2="784" y2="914.8" stroke-dasharray="4 3" stroke-width="0.6"/>
<ellipse cx="784" cy="871.8" rx="2.5" ry="1.3" fill="#fff"/>
<path d="M783,876 L783,905 L785,905 L785,876 Z" fill="#fff"/>
<path d="M783,876 L783,890 L785,890 L785,876 Z" fill="#444"/>
<ellipse cx="784" cy="906.5" rx="2.6" ry="1.6" fill="#555"/>
<path d="M981.6,773.6 L1000,764.8 L1056,774.4 L1056,838.4 L1035.2,847.2 L980,838.4 L980,829.6 L981.6,829.6 Z" fill="#fff" stroke-width="1"/>
<path d="M981.6,773.6 L1036.8,784.8 L1056,774.4"/>
<line x1="1036.8" y1="784.8" x2="1036.8" y2="837.6"/>
<path d="M980,829.6 L1035.2,837.6 L1056,829.6" stroke-width="1"/>
<line x1="1035.2" y1="837.6" x2="1035.2" y2="847.2"/>
<ellipse cx="1013.6" cy="773.6" rx="1.5" ry="0.8"/>
<path d="M1022,767 L1022,775 Q1028,778 1034,775 L1034,767" fill="#fff"/>
<ellipse cx="1028" cy="767" rx="6" ry="2.4" fill="#fff"/>
<path d="M985.6,840 L1012,844 L1016,852 L1012,861.6 L990,858 L985.6,848 Z" fill="#fff"/>
<circle cx="997.6" cy="850.4" r="3.6" fill="#fff"/>
<circle cx="997.6" cy="850.4" r="2.2" fill="#555"/>
<path d="M1020.8,847.2 L1040,847 L1040,858 L1030,860 L1020.8,858 Z" fill="#fff"/>
<line x1="1020.8" y1="852" x2="1040" y2="852"/>
<path d="M1039.2,844 L1051.2,843 L1051.2,853 L1039.2,854.4 Z" fill="#fff"/>
<line x1="1055.2" y1="820.8" x2="1064.8" y2="816.8" stroke-dasharray="4 3" stroke-width="0.7"/>
<path d="M1066,812 L1078,806 L1081,814 L1069,820 Z" fill="#fff"/>
<line x1="1069" y1="810" x2="1072" y2="818" stroke-width="0.8"/>
<line x1="1071.5" y1="808.8" x2="1074.5" y2="816.8" stroke-width="0.8"/>
<line x1="1074" y1="807.6" x2="1077" y2="815.6" stroke-width="0.8"/>
<line x1="1076.5" y1="806.4" x2="1079.5" y2="814.4" stroke-width="0.8"/>
<ellipse cx="1066.5" cy="816" rx="3" ry="4.5" transform="rotate(-20 1066.5 816)" fill="#fff"/>
<path d="M1079,805 Q1088,800 1091,807 Q1095,814 1090,819 Q1085,822 1081,818 Z" fill="#fff"/>
<ellipse cx="1089" cy="815" rx="3.5" ry="4.5" transform="rotate(-20 1089 815)"/>
<line x1="1049.6" y1="854.4" x2="1064" y2="856.8"/>
<path d="M1064,853 L1088,857 L1088,864 L1064,860.5 Z" fill="#fff"/>
<line x1="1065" y1="852.8" x2="1065" y2="860.5" stroke-width="0.9"/>
<line x1="1066.8" y1="853.1" x2="1066.8" y2="860.8" stroke-width="0.9"/>
<line x1="1068.6" y1="853.4" x2="1068.6" y2="861.1" stroke-width="0.9"/>
<line x1="1070.4" y1="853.7" x2="1070.4" y2="861.4" stroke-width="0.9"/>
<line x1="1072.2" y1="854" x2="1072.2" y2="861.7" stroke-width="0.9"/>
<line x1="1078" y1="855" x2="1078" y2="862.8" stroke-width="0.9"/>
<line x1="1079.9" y1="855.3" x2="1079.9" y2="863.1" stroke-width="0.9"/>
<line x1="1081.8" y1="855.6" x2="1081.8" y2="863.4" stroke-width="0.9"/>
<line x1="1083.7" y1="855.9" x2="1083.7" y2="863.7" stroke-width="0.9"/>
<line x1="1085.6" y1="856.2" x2="1085.6" y2="864" stroke-width="0.9"/>
<ellipse cx="1088" cy="860.5" rx="1.6" ry="3.6" fill="#fff"/>
<line x1="1094.4" y1="860.8" x2="1124.8" y2="866.4"/>
<path d="M1130.4,863.2 L1163.2,863.2 L1163.2,877 L1150,881 L1138,881 L1130.4,877 Z" fill="#fff"/>
<circle cx="1139" cy="874" r="2.5" fill="#333"/>
<line x1="1147" y1="866" x2="1147" y2="881"/>
<line x1="1155" y1="866" x2="1155" y2="880"/>
<path d="M1132.8,848.8 L1161.6,848.8 L1161.6,863.2 L1132.8,863.2 Z" fill="#fff"/>
<path d="M1132.8,856 Q1147,860 1161.6,856"/>
<path d="M1134,842.4 L1160,842.4 L1160,848.8 L1134,848.8 Z" fill="#444"/>
<path d="M1136,836 L1158.4,836 L1158.4,842.4 L1136,842.4 Z" fill="#fff"/>
<path d="M1136.8,824.8 L1157.6,824.8 L1157.6,836 L1136.8,836 Z" fill="#fff"/>
<line x1="1138" y1="827" x2="1138" y2="835" stroke-width="0.9"/>
<line x1="1140.3" y1="827" x2="1140.3" y2="835" stroke-width="0.9"/>
<line x1="1142.6" y1="827" x2="1142.6" y2="835" stroke-width="0.9"/>
<line x1="1144.9" y1="827" x2="1144.9" y2="835" stroke-width="0.9"/>
<line x1="1147.2" y1="827" x2="1147.2" y2="835" stroke-width="0.9"/>
<line x1="1149.5" y1="827" x2="1149.5" y2="835" stroke-width="0.9"/>
<line x1="1151.8" y1="827" x2="1151.8" y2="835" stroke-width="0.9"/>
<line x1="1154.1" y1="827" x2="1154.1" y2="835" stroke-width="0.9"/>
<line x1="1156.4" y1="827" x2="1156.4" y2="835" stroke-width="0.9"/>
<ellipse cx="1147.2" cy="824.8" rx="10.4" ry="2.6" fill="#fff"/>
<path d="M1158.4,835.2 L1172.8,838.4 L1172.8,848.8 L1163,844 Z" fill="#fff"/>
<path d="M1163,854 L1170,852 L1173,859 L1166,863 Z" fill="#333"/>
<path d="M1166.4,871 L1180,869.6 L1181,879.5 L1166.4,880.8 Z" fill="#fff"/>
<line x1="1168" y1="870.5" x2="1168" y2="880.3" stroke-width="0.9"/>
<line x1="1170" y1="870.5" x2="1170" y2="880.3" stroke-width="0.9"/>
<line x1="1172" y1="870.5" x2="1172" y2="880.3" stroke-width="0.9"/>
<line x1="1174" y1="870.5" x2="1174" y2="880.3" stroke-width="0.9"/>
<ellipse cx="1184" cy="875" rx="4.6" ry="5.4" fill="#fff"/>
<ellipse cx="1184.5" cy="875" rx="2.2" ry="3"/>
<path d="M950,858 L963,853 L983,856 L995,866 L998,884 L993,898 L982,904 L966,903 L953,895 L946,880 Z" fill="#fff"/>
<ellipse cx="963.3" cy="880" rx="17" ry="22" transform="rotate(-8 963.3 880)" fill="#fff"/>
<ellipse cx="963.3" cy="880" rx="14.5" ry="19.5" transform="rotate(-8 963.3 880)"/>
<line x1="962" y1="874" x2="972" y2="880" stroke-width="1.2"/>
<circle cx="961" cy="874" r="1.3" fill="#fff"/>
<circle cx="958" cy="884" r="1.4" fill="#222"/>
<circle cx="968" cy="888" r="1.4" fill="#222"/>
<line x1="953" y1="870" x2="979" y2="876" stroke-width="0.5"/>
<path d="M1065,889 L1077,884 L1095,887 L1103,898 L1103,912 L1097,921 L1085,924 L1071,920 L1063,910 Z" fill="#fff"/>
<ellipse cx="1077" cy="904" rx="13" ry="17" transform="rotate(-8 1077 904)" fill="#fff"/>
<ellipse cx="1077" cy="904" rx="10.5" ry="14.5" transform="rotate(-8 1077 904)"/>
<line x1="1075" y1="899" x2="1084" y2="904" stroke-width="1.2"/>
<circle cx="1074" cy="899" r="1.2" fill="#fff"/>
<circle cx="1073" cy="908" r="1.3" fill="#222"/>
<circle cx="1081" cy="911" r="1.3" fill="#222"/>
<path d="M861,760 C864,772 870,785 874,796 C876,803 868,806 858,806 C845,806 832,806 824,812 C818,818 820,826 830,829 L843,831" stroke-width="9" stroke="#444" stroke-dasharray="0.8 1.5" stroke-linecap="butt"/>
<path d="M861,760 C864,772 870,785 874,796 C876,803 868,806 858,806 C845,806 832,806 824,812 C818,818 820,826 830,829 L843,831" stroke-width="3.4" stroke="#888"/>
<path d="M861,760 C864,772 870,785 874,796 C876,803 868,806 858,806 C845,806 832,806 824,812 C818,818 820,826 830,829 L843,831" stroke-width="2" stroke="#fff"/>
<path d="M854,752 L861,749 L866,754 L864,761 L857,763 L853,758 Z" fill="#fff"/>
<ellipse cx="859.5" cy="756" rx="2.5" ry="2" fill="#333"/>
<path d="M843,825 L851,824 L855,829 L853,836 L845,837 L842,831 Z" fill="#fff"/>
<ellipse cx="851" cy="830.5" rx="2.5" ry="3.5" fill="#333"/>
<path d="M862,903 Q866,895 872,892 Q880,889 890,891 L916,880 Q921,877 918,872 L908,862" stroke-width="3.6" stroke="#333"/>
<path d="M862,903 Q866,895 872,892 Q880,889 890,891 L916,880 Q921,877 918,872 L908,862" stroke-width="2" stroke="#fff"/>
<path d="M859,901 L864,899 L865,906 L860,907 Z" fill="#fff"/>
<path d="M817,934 Q818,928 824,927 L834,932 L833,946 L823,945 Q817,941 817,934 Z" fill="#666"/>
<line x1="819" y1="929" x2="818" y2="943" stroke="#999" stroke-width="0.6"/>
<line x1="821.5" y1="929.8" x2="820.5" y2="943.6" stroke="#999" stroke-width="0.6"/>
<line x1="824" y1="930.6" x2="823" y2="944.2" stroke="#999" stroke-width="0.6"/>
<line x1="826.5" y1="931.4" x2="825.5" y2="944.8" stroke="#999" stroke-width="0.6"/>
<line x1="829" y1="932.2" x2="828" y2="945.4" stroke="#999" stroke-width="0.6"/>
<path d="M832,932 L852,940 L862,946 L860,962 L846,962 L831,946 Z" fill="#fff"/>
<line x1="838" y1="934" x2="836" y2="950"/>
<line x1="845" y1="937" x2="843" y2="955"/>
<path d="M852,944 L860,941 L867,947 L866,960 L859,965 L852,960 Z" fill="#fff"/>
<line x1="860" y1="941" x2="859" y2="965"/>
<path d="M829,960 Q827,953 835,952 L848,958 L850,970 Q848,977 840,977 L832,973 Q828,968 829,960 Z" fill="#777"/>
<line x1="830" y1="958" x2="849" y2="962" stroke="#aaa" stroke-width="0.6"/>
<line x1="830" y1="961" x2="849" y2="965" stroke="#aaa" stroke-width="0.6"/>
<line x1="830" y1="964" x2="849" y2="968" stroke="#aaa" stroke-width="0.6"/>
<line x1="830" y1="967" x2="849" y2="971" stroke="#aaa" stroke-width="0.6"/>
<line x1="830" y1="970" x2="849" y2="974" stroke="#aaa" stroke-width="0.6"/>
<path d="M903,1062 Q925,1071 941,1065 L1085,990 Q1120,972 1150,963 L1175,953 Q1186,952 1183,959 L1030,1040 Q1015,1046 1000,1033 L977,1026" stroke-width="11" stroke="#333" stroke-linecap="round"/>
<path d="M903,1062 Q925,1071 941,1065 L1085,990 Q1120,972 1150,963 L1175,953 Q1186,952 1183,959 L1030,1040 Q1015,1046 1000,1033 L977,1026" stroke-width="9.2" stroke="#fff" stroke-linecap="round"/>
<ellipse cx="923" cy="1064" rx="2" ry="4.8" transform="rotate(-60 923 1064)"/>
<ellipse cx="941" cy="1063" rx="2" ry="4.8" transform="rotate(-30 941 1063)"/>
<ellipse cx="1082" cy="989" rx="2" ry="4.8" transform="rotate(-25 1082 989)"/>
<ellipse cx="1145" cy="963" rx="2" ry="4.8" transform="rotate(-20 1145 963)"/>
<ellipse cx="1170" cy="955" rx="2" ry="4.8" transform="rotate(-20 1170 955)"/>
<ellipse cx="1027" cy="1040" rx="2" ry="4.8" transform="rotate(-20 1027 1040)"/>
<ellipse cx="1032" cy="1038" rx="2" ry="4.8" transform="rotate(-30 1032 1038)"/>
<line x1="1000" y1="1032" x2="1010" y2="1033"/>

</g>
<g stroke="#333" stroke-width="0.8">
<line x1="748.4" y1="46" x2="719.6" y2="63.6"/>
<line x1="750.8" y1="72.4" x2="719.6" y2="87.6"/>
<line x1="593.3" y1="70.7" x2="571.3" y2="106"/>
<line x1="612" y1="82" x2="589.3" y2="118.7"/>
<line x1="759.6" y1="148.4" x2="737.2" y2="186"/>
<line x1="543.3" y1="164" x2="592" y2="189.3"/>
<line x1="538.7" y1="196.7" x2="586.7" y2="221.3"/>
<line x1="803.6" y1="181.2" x2="783.6" y2="216.4"/>
<line x1="826.8" y1="206" x2="803.6" y2="244.4"/>
<line x1="846.8" y1="218.8" x2="826" y2="255.6"/>
<line x1="630.7" y1="217.3" x2="648" y2="186.7"/>
<line x1="619.3" y1="256" x2="664.2" y2="281"/>
<line x1="800.7" y1="310.5" x2="737.2" y2="279.4"/>
<line x1="625" y1="302.5" x2="673.8" y2="328.6"/>
<line x1="619.3" y1="357" x2="667" y2="380.8"/>
<line x1="589.9" y1="392.8" x2="642" y2="419.3"/>
<line x1="761" y1="384.2" x2="733.8" y2="418.2"/>
<line x1="767.6" y1="436.8" x2="732.6" y2="471.8"/>
<line x1="630.4" y1="506.8" x2="676.6" y2="530.6"/>
<line x1="661.2" y1="590.8" x2="678" y2="618.8"/>
<line x1="815.2" y1="456.4" x2="787.2" y2="484.4"/>
<line x1="787.2" y1="484.4" x2="778" y2="484.4"/>
<line x1="787.2" y1="484.4" x2="787.2" y2="502.6"/>
<line x1="787.2" y1="502.6" x2="778" y2="502.6"/>
<line x1="815.2" y1="488.6" x2="778.8" y2="516.6"/>
<line x1="808.2" y1="506.8" x2="773.2" y2="536.2"/>
<line x1="820.8" y1="523.6" x2="795.6" y2="550.2"/>
<line x1="827.8" y1="537.6" x2="804" y2="558.6"/>
<line x1="580" y1="632.8" x2="626.2" y2="655.2"/>
<line x1="868.7" y1="633.3" x2="816.7" y2="606"/>
<line x1="908" y1="582" x2="859.3" y2="558"/>
<line x1="935" y1="574" x2="883" y2="547"/>
<line x1="945" y1="558" x2="892" y2="529"/>
<line x1="972" y1="547" x2="920" y2="520"/>
<line x1="1132" y1="401" x2="1079" y2="373"/>
<line x1="1113" y1="416" x2="1060" y2="388"/>
<line x1="1101" y1="431" x2="1052" y2="402"/>
<line x1="1106" y1="493" x2="1055" y2="468"/>
<line x1="891" y1="428" x2="942" y2="453"/>
<line x1="876" y1="445" x2="924" y2="471"/>
<line x1="943.2" y1="180.4" x2="891.6" y2="211.6"/>
<line x1="1143.6" y1="299.2" x2="1183" y2="273"/>
<line x1="781.6" y1="659.4" x2="752.2" y2="693"/>
<line x1="226.7" y1="533.3" x2="270.8" y2="557.5"/>
<line x1="240" y1="588.3" x2="286.7" y2="612.5"/>
<line x1="200" y1="631.7" x2="245" y2="655"/>
<line x1="459" y1="592" x2="403" y2="625"/>
<line x1="396.2" y1="866.2" x2="367.6" y2="809"/>
<line x1="523.6" y1="637.4" x2="482" y2="681.6"/>
<line x1="775.1" y1="721" x2="743.4" y2="746.4"/>
<line x1="814.4" y1="776.8" x2="784" y2="807.2"/>
<line x1="657.3" y1="893.3" x2="687.7" y2="860.4"/>
<line x1="749.8" y1="906" x2="782.7" y2="874.3"/>
<line x1="752.3" y1="937.6" x2="782.7" y2="908.5"/>
<line x1="662.4" y1="809.7" x2="652.2" y2="767.9"/>
<line x1="638.3" y1="828.7" x2="632" y2="789.4"/>
<line x1="606.7" y1="836.3" x2="581.3" y2="794.5"/>
<line x1="583.9" y1="857.8" x2="550.9" y2="814.8"/>
<line x1="561.1" y1="870.5" x2="530.7" y2="832.5"/>
<line x1="558.5" y1="669.1" x2="567.4" y2="707.1"/>
<line x1="592.7" y1="707.1" x2="599" y2="746.4"/>
<line x1="606.7" y1="684.3" x2="614.2" y2="721"/>
<line x1="950" y1="736.7" x2="1000" y2="765"/>
<line x1="1098.3" y1="728.3" x2="1086.7" y2="803.3"/>
<line x1="1160" y1="746.7" x2="1150" y2="821.7"/>
<line x1="1223.3" y1="803.3" x2="1170" y2="836.7"/>
<line x1="1243.3" y1="845" x2="1186.7" y2="876.7"/>
<line x1="1018.3" y1="896.7" x2="1073.3" y2="863.3"/>
<line x1="915" y1="930" x2="968.3" y2="896.7"/>
<line x1="1016.7" y1="951.7" x2="1070" y2="920"/>
<line x1="915" y1="790" x2="870" y2="765"/>
<line x1="846.7" y1="865" x2="890" y2="890"/>
<line x1="910" y1="993.3" x2="858.3" y2="966.7"/>
<line x1="1234.7" y1="994" x2="1184" y2="966"/>
<line x1="610.9" y1="1077.6" x2="710.6" y2="1061.7"/>
<line x1="305.2" y1="1100.8" x2="357.2" y2="1127.7"/>
<line x1="275.8" y1="1151.9" x2="326.9" y2="1182.2"/>
<line x1="223.8" y1="1169.2" x2="280.1" y2="1197.8"/>
<line x1="658.5" y1="1272.5" x2="710.6" y2="1254.4"/>
<line x1="658.5" y1="1290.6" x2="710.6" y2="1272.5"/>
<line x1="656.2" y1="1329.2" x2="697" y2="1317.8"/>
<line x1="536.1" y1="1249.8" x2="536.1" y2="1172.8"/>
<line x1="311.7" y1="905.3" x2="400.1" y2="950.7"/>
<line x1="1177.8" y1="1184.7" x2="1118" y2="1184.7"/>
</g>
<g class="lb">
<text transform="translate(755 51.4) scale(0.9 1)">1</text>
<text transform="translate(757 76.4) scale(0.9 1)">2</text>
<text transform="translate(594 67.4) scale(0.9 1)">3</text>
<text transform="translate(615 83.4) scale(0.9 1)">4</text>
<text transform="translate(757 145.4) scale(0.9 1)">5</text>
<text transform="translate(536 167.4) scale(0.9 1)">6</text>
<text transform="translate(531 200.4) scale(0.9 1)">7</text>
<text transform="translate(801 178.4) scale(0.9 1)">8</text>
<text transform="translate(828 203.4) scale(0.9 1)">9</text>
<text transform="translate(853 217.4) scale(0.9 1)">10</text>
<text transform="translate(626 232.4) scale(0.9 1)">11</text>
<text transform="translate(604 258.4) scale(0.9 1)">12</text>
<text transform="translate(808 324.4) scale(0.9 1)">13</text>
<text transform="translate(608 304.4) scale(0.9 1)">14</text>
<text transform="translate(603 358.4) scale(0.9 1)">15</text>
<text transform="translate(768 383.4) scale(0.9 1)">16</text>
<text transform="translate(573 394.4) scale(0.9 1)">13</text>
<text transform="translate(526 636.4) scale(0.9 1)">17</text>
<text transform="translate(776 436.4) scale(0.9 1)">18</text>
<text transform="translate(614 505.4) scale(0.9 1)">19</text>
<text transform="translate(823 456.4) scale(0.9 1)">20</text>
<text transform="translate(1101 725.4) scale(0.9 1)">21</text>
<text transform="translate(825 489.4) scale(0.9 1)">22</text>
<text transform="translate(817 507.4) scale(0.9 1)">23</text>
<text transform="translate(828 524.4) scale(0.9 1)">24</text>
<text transform="translate(836 539.4) scale(0.9 1)">25</text>
<text transform="translate(656 588.4) scale(0.9 1)">26</text>
<text transform="translate(578 633.4) scale(0.9 1)">27</text>
<text transform="translate(955 184.4) scale(0.9 1)">28</text>
<text transform="translate(1135 310.4) scale(0.9 1)">29</text>
<text transform="translate(1141 410.4) scale(0.9 1)">30</text>
<text transform="translate(1122 425.4) scale(0.9 1)">31</text>
<text transform="translate(1108 440.4) scale(0.9 1)">32</text>
<text transform="translate(1114 501.4) scale(0.9 1)">33</text>
<text transform="translate(879 429.4) scale(0.9 1)">34</text>
<text transform="translate(862 446.4) scale(0.9 1)">35</text>
<text transform="translate(978 557.4) scale(0.9 1)">36</text>
<text transform="translate(953 568.4) scale(0.9 1)">37</text>
<text transform="translate(942 584.4) scale(0.9 1)">38</text>
<text transform="translate(914 595.4) scale(0.9 1)">39</text>
<text transform="translate(877 642.4) scale(0.9 1)">40</text>
<text transform="translate(791 659.4) scale(0.9 1)">41</text>
<text transform="translate(606 684.4) scale(0.9 1)">42</text>
<text transform="translate(591 707.4) scale(0.9 1)">43</text>
<text transform="translate(557 668.4) scale(0.9 1)">44</text>
<text transform="translate(665 823.4) scale(0.9 1)">45</text>
<text transform="translate(641 842.4) scale(0.9 1)">46</text>
<text transform="translate(611 849.4) scale(0.9 1)">47</text>
<text transform="translate(590 870.4) scale(0.9 1)">48</text>
<text transform="translate(566 885.4) scale(0.9 1)">49</text>
<text transform="translate(781 717.4) scale(0.9 1)">50</text>
<text transform="translate(822 777.4) scale(0.9 1)">51</text>
<text transform="translate(647 905.4) scale(0.9 1)">52</text>
<text transform="translate(736 914.4) scale(0.9 1)">53</text>
<text transform="translate(743 949.4) scale(0.9 1)">54</text>
<text transform="translate(929 801.4) scale(0.9 1)">55</text>
<text transform="translate(841 865.4) scale(0.9 1)">56</text>
<text transform="translate(907 939.4) scale(0.9 1)">57</text>
<text transform="translate(1012 907.4) scale(0.9 1)">58</text>
<text transform="translate(1008 964.4) scale(0.9 1)">59</text>
<text transform="translate(1249 1002.4) scale(0.9 1)">60</text>
<text transform="translate(601 1085.4) scale(0.9 1)">61</text>
<text transform="translate(301 893.4) scale(0.9 1)">62</text>
<text transform="translate(304 1101.4) scale(0.9 1)">63</text>
<text transform="translate(272 1149.4) scale(0.9 1)">64</text>
<text transform="translate(219 1167.4) scale(0.9 1)">65</text>
<text transform="translate(641 1281.4) scale(0.9 1)">66</text>
<text transform="translate(539 1270.4) scale(0.9 1)">67</text>
<text transform="translate(641 1301.4) scale(0.9 1)">68</text>
<text transform="translate(643 1337.4) scale(0.9 1)">69</text>
<text transform="translate(919 1002.4) scale(0.9 1)">70</text>
<text transform="translate(940 741.4) scale(0.9 1)">71</text>
<text transform="translate(1194 1188.4) scale(0.9 1)">72</text>
<text transform="translate(1256 848.4) scale(0.9 1)">73</text>
<text transform="translate(1240 806.4) scale(0.9 1)">74</text>
<text transform="translate(467 590.4) scale(0.9 1)">75</text>
<text transform="translate(218 537.4) scale(0.9 1)">76</text>
<text transform="translate(235 590.4) scale(0.9 1)">77</text>
<text transform="translate(195 633.4) scale(0.9 1)">78</text>
<text transform="translate(398 883.4) scale(0.9 1)">79</text>
<text transform="translate(1166 743.4) scale(0.9 1)">16</text>
</g>
<line x1="0" y1="1371.5" x2="1500" y2="1371.5" stroke="#000" stroke-width="1.6"/>
<rect x="31.5" y="1406.2" width="214.8" height="59.6" fill="#7f7e83"/>
<g fill="#fff" stroke="none">
<path d="M66.6,1416.9 L85.5,1436.1 L66.6,1455 L56.7,1445.5 L56.7,1426.6 Z"/>
<path d="M55,1426.8 H69 C73,1426.8 74.6,1430 74.6,1432.5 C74.6,1434.6 73.6,1435.5 72.4,1436 C73.6,1436.5 74.6,1437.5 74.6,1439.6 C74.6,1442.6 73,1445.7 69,1445.7 H55 Z" fill="#7f7e83"/>
<path d="M46.9,1432.75 a1.75,1.75 0 0 1 1.75,-1.75 H66.9 a1.75,1.75 0 0 1 0,3.5 H48.65 a1.75,1.75 0 0 1 -1.75,-1.75Z"/>
<path d="M46.9,1439.75 a1.75,1.75 0 0 1 1.75,-1.75 H66.9 a1.75,1.75 0 0 1 0,3.5 H48.65 a1.75,1.75 0 0 1 -1.75,-1.75Z"/>
<path d="M93.9,1427.8 L97.3,1422.4 H118 Q123.6,1422.4 123.6,1428 V1432 Q123.6,1434.5 122.2,1436 Q123.6,1437.5 123.6,1440 V1443.3 Q123.6,1448.9 118,1448.9 H97.3 L93.9,1443.8 Z"/>
<path d="M127.9,1422.4 H158.6 V1443.5 Q158.6,1448.9 153.2,1448.9 H129.9 Q127.9,1448.9 127.9,1446.9 Z"/>
<path d="M163.5,1422.4 H193.1 V1430.2 H171.7 V1433.6 H190.2 Q195.6,1433.6 195.6,1439 V1443.5 Q195.6,1448.9 190.2,1448.9 H165.5 Q163.5,1448.9 163.5,1446.9 Z"/>
<path d="M199,1424.4 Q199,1422.4 201,1422.4 H225.2 Q230.6,1422.4 230.6,1427.8 V1434 Q230.6,1439.4 225.2,1439.4 H207.8 V1446.9 Q207.8,1448.9 205.8,1448.9 H201 Q199,1448.9 199,1446.9 Z"/>
</g>
<g fill="#7f7e83" stroke="none">
<path d="M92.5,1429 H114 Q115.8,1429 115.8,1430.8 V1440 Q115.8,1441.8 114,1441.8 H92.5 Z"/>
<rect x="136.2" y="1422" width="15.1" height="10.6" rx="1"/>
<rect x="127.5" y="1438.9" width="23.8" height="3.4" rx="1.2"/>
<rect x="171.7" y="1439.2" width="15.6" height="2.6" rx="1.2"/>
<rect x="207.8" y="1430.2" width="15" height="2.9" rx="1.2"/>
</g>
<rect x="104.1" y="1433.6" width="13" height="5.6" fill="#fff"/>

<text x="288" y="1451" font-family="Liberation Sans" font-size="36" fill="#000" stroke="#000" stroke-width="0.9" textLength="351" lengthAdjust="spacingAndGlyphs">ЗКПМ-440-100-Р-2.2.</text>
<text x="646" y="1451" font-family="Liberation Sans" font-size="34" fill="#333" textLength="727" lengthAdjust="spacingAndGlyphs">Схема 1-1 (Схема-состав. Компрессор воздушный)</text>
</svg>

</body></html>
